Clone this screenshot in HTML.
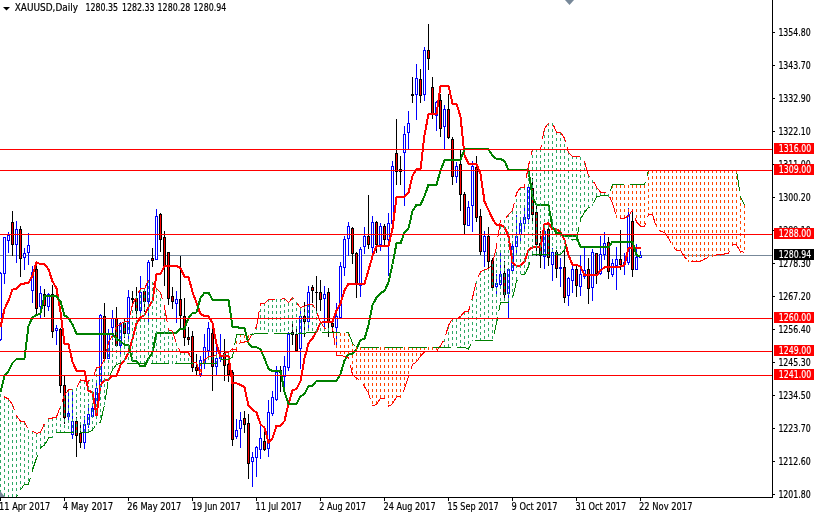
<!DOCTYPE html>
<html><head><meta charset="utf-8"><style>
html,body{margin:0;padding:0;background:#fff;overflow:hidden;}
svg{display:block;}
</style></head><body>
<svg width="814" height="514" viewBox="0 0 814 514" shape-rendering="crispEdges">
<rect width="814" height="514" fill="#fff"/>
<defs><clipPath id="cp"><rect x="0" y="0" width="772" height="497"/></clipPath></defs>
<g clip-path="url(#cp)">
<rect x="0" y="255" width="772" height="1" fill="#778899"/>
<rect x="0" y="272" width="1" height="69" fill="#0000ff"/>
<rect x="-1" y="273" width="3" height="67" fill="#0000ff"/>
<rect x="0" y="274" width="1" height="65" fill="#fff"/>
<rect x="4" y="237" width="1" height="47" fill="#0000ff"/>
<rect x="3" y="237" width="3" height="37" fill="#0000ff"/>
<rect x="4" y="238" width="1" height="35" fill="#fff"/>
<rect x="8" y="232" width="1" height="21" fill="#0000ff"/>
<rect x="7" y="235" width="3" height="6" fill="#0000ff"/>
<rect x="8" y="236" width="1" height="4" fill="#fff"/>
<rect x="12" y="211" width="1" height="45" fill="#000"/>
<rect x="11" y="222" width="3" height="23" fill="#000"/>
<rect x="12" y="223" width="1" height="21" fill="#ff0000"/>
<rect x="16" y="221" width="1" height="42" fill="#0000ff"/>
<rect x="15" y="229" width="3" height="16" fill="#0000ff"/>
<rect x="16" y="230" width="1" height="14" fill="#fff"/>
<rect x="20" y="226" width="1" height="51" fill="#000"/>
<rect x="19" y="229" width="3" height="30" fill="#000"/>
<rect x="20" y="230" width="1" height="28" fill="#ff0000"/>
<rect x="24" y="248" width="1" height="22" fill="#0000ff"/>
<rect x="23" y="253" width="3" height="5" fill="#0000ff"/>
<rect x="24" y="254" width="1" height="3" fill="#fff"/>
<rect x="28" y="233" width="1" height="32" fill="#0000ff"/>
<rect x="27" y="245" width="3" height="8" fill="#0000ff"/>
<rect x="28" y="246" width="1" height="6" fill="#fff"/>
<rect x="32" y="266" width="1" height="37" fill="#0000ff"/>
<rect x="31" y="272" width="3" height="19" fill="#0000ff"/>
<rect x="32" y="273" width="1" height="17" fill="#fff"/>
<rect x="36" y="266" width="1" height="49" fill="#000"/>
<rect x="35" y="269" width="3" height="40" fill="#000"/>
<rect x="36" y="270" width="1" height="38" fill="#ff0000"/>
<rect x="40" y="286" width="1" height="33" fill="#0000ff"/>
<rect x="39" y="293" width="3" height="14" fill="#0000ff"/>
<rect x="40" y="294" width="1" height="12" fill="#fff"/>
<rect x="44" y="289" width="1" height="28" fill="#000"/>
<rect x="43" y="294" width="3" height="12" fill="#000"/>
<rect x="44" y="295" width="1" height="10" fill="#ff0000"/>
<rect x="48" y="293" width="1" height="18" fill="#0000ff"/>
<rect x="47" y="294" width="3" height="13" fill="#0000ff"/>
<rect x="48" y="295" width="1" height="11" fill="#fff"/>
<rect x="52" y="285" width="1" height="53" fill="#000"/>
<rect x="51" y="294" width="3" height="38" fill="#000"/>
<rect x="52" y="295" width="1" height="36" fill="#ff0000"/>
<rect x="56" y="325" width="1" height="20" fill="#0000ff"/>
<rect x="55" y="328" width="3" height="3" fill="#0000ff"/>
<rect x="56" y="329" width="1" height="1" fill="#fff"/>
<rect x="60" y="328" width="1" height="65" fill="#000"/>
<rect x="59" y="329" width="3" height="57" fill="#000"/>
<rect x="60" y="330" width="1" height="55" fill="#ff0000"/>
<rect x="64" y="376" width="1" height="48" fill="#000"/>
<rect x="63" y="385" width="3" height="33" fill="#000"/>
<rect x="64" y="386" width="1" height="31" fill="#ff0000"/>
<rect x="68" y="390" width="1" height="31" fill="#0000ff"/>
<rect x="67" y="413" width="3" height="4" fill="#0000ff"/>
<rect x="68" y="414" width="1" height="2" fill="#fff"/>
<rect x="72" y="390" width="1" height="49" fill="#0000ff"/>
<rect x="71" y="421" width="3" height="14" fill="#0000ff"/>
<rect x="72" y="422" width="1" height="12" fill="#fff"/>
<rect x="76" y="417" width="1" height="40" fill="#000"/>
<rect x="75" y="421" width="3" height="15" fill="#000"/>
<rect x="76" y="422" width="1" height="13" fill="#ff0000"/>
<rect x="80" y="424" width="1" height="24" fill="#000"/>
<rect x="79" y="433" width="3" height="10" fill="#000"/>
<rect x="80" y="434" width="1" height="8" fill="#ff0000"/>
<rect x="84" y="416" width="1" height="33" fill="#0000ff"/>
<rect x="83" y="424" width="3" height="19" fill="#0000ff"/>
<rect x="84" y="425" width="1" height="17" fill="#fff"/>
<rect x="88" y="404" width="1" height="24" fill="#0000ff"/>
<rect x="87" y="414" width="3" height="11" fill="#0000ff"/>
<rect x="88" y="415" width="1" height="9" fill="#fff"/>
<rect x="92" y="406" width="1" height="12" fill="#0000ff"/>
<rect x="91" y="408" width="3" height="9" fill="#0000ff"/>
<rect x="92" y="409" width="1" height="7" fill="#fff"/>
<rect x="96" y="382" width="1" height="35" fill="#0000ff"/>
<rect x="95" y="388" width="3" height="22" fill="#0000ff"/>
<rect x="96" y="389" width="1" height="20" fill="#fff"/>
<rect x="100" y="314" width="1" height="74" fill="#0000ff"/>
<rect x="99" y="315" width="3" height="72" fill="#0000ff"/>
<rect x="100" y="316" width="1" height="70" fill="#fff"/>
<rect x="104" y="303" width="1" height="58" fill="#000"/>
<rect x="103" y="316" width="3" height="43" fill="#000"/>
<rect x="104" y="317" width="1" height="41" fill="#ff0000"/>
<rect x="108" y="329" width="1" height="30" fill="#0000ff"/>
<rect x="107" y="333" width="3" height="26" fill="#0000ff"/>
<rect x="108" y="334" width="1" height="24" fill="#fff"/>
<rect x="112" y="310" width="1" height="30" fill="#0000ff"/>
<rect x="111" y="318" width="3" height="10" fill="#0000ff"/>
<rect x="112" y="319" width="1" height="8" fill="#fff"/>
<rect x="116" y="307" width="1" height="40" fill="#000"/>
<rect x="115" y="318" width="3" height="28" fill="#000"/>
<rect x="116" y="319" width="1" height="26" fill="#ff0000"/>
<rect x="120" y="322" width="1" height="33" fill="#0000ff"/>
<rect x="119" y="323" width="3" height="23" fill="#0000ff"/>
<rect x="120" y="324" width="1" height="21" fill="#fff"/>
<rect x="124" y="319" width="1" height="19" fill="#000"/>
<rect x="123" y="323" width="3" height="11" fill="#000"/>
<rect x="124" y="324" width="1" height="9" fill="#ff0000"/>
<rect x="128" y="290" width="1" height="51" fill="#0000ff"/>
<rect x="127" y="297" width="3" height="37" fill="#0000ff"/>
<rect x="128" y="298" width="1" height="35" fill="#fff"/>
<rect x="132" y="291" width="1" height="13" fill="#000"/>
<rect x="131" y="298" width="3" height="2" fill="#000"/>
<rect x="136" y="287" width="1" height="32" fill="#000"/>
<rect x="135" y="298" width="3" height="13" fill="#000"/>
<rect x="136" y="299" width="1" height="11" fill="#ff0000"/>
<rect x="140" y="276" width="1" height="42" fill="#0000ff"/>
<rect x="139" y="292" width="3" height="19" fill="#0000ff"/>
<rect x="140" y="293" width="1" height="17" fill="#fff"/>
<rect x="144" y="288" width="1" height="24" fill="#000"/>
<rect x="143" y="291" width="3" height="11" fill="#000"/>
<rect x="144" y="292" width="1" height="9" fill="#ff0000"/>
<rect x="148" y="260" width="1" height="64" fill="#0000ff"/>
<rect x="147" y="262" width="3" height="40" fill="#0000ff"/>
<rect x="148" y="263" width="1" height="38" fill="#fff"/>
<rect x="152" y="248" width="1" height="19" fill="#000"/>
<rect x="151" y="258" width="3" height="3" fill="#000"/>
<rect x="152" y="259" width="1" height="1" fill="#ff0000"/>
<rect x="156" y="209" width="1" height="51" fill="#0000ff"/>
<rect x="155" y="216" width="3" height="44" fill="#0000ff"/>
<rect x="156" y="217" width="1" height="42" fill="#fff"/>
<rect x="160" y="213" width="1" height="39" fill="#000"/>
<rect x="159" y="214" width="3" height="26" fill="#000"/>
<rect x="160" y="215" width="1" height="24" fill="#ff0000"/>
<rect x="164" y="231" width="1" height="55" fill="#000"/>
<rect x="163" y="237" width="3" height="29" fill="#000"/>
<rect x="164" y="238" width="1" height="27" fill="#ff0000"/>
<rect x="168" y="252" width="1" height="53" fill="#000"/>
<rect x="167" y="252" width="3" height="47" fill="#000"/>
<rect x="168" y="253" width="1" height="45" fill="#ff0000"/>
<rect x="172" y="287" width="1" height="22" fill="#000"/>
<rect x="171" y="296" width="3" height="6" fill="#000"/>
<rect x="172" y="297" width="1" height="4" fill="#ff0000"/>
<rect x="176" y="291" width="1" height="32" fill="#0000ff"/>
<rect x="175" y="299" width="3" height="5" fill="#0000ff"/>
<rect x="176" y="300" width="1" height="3" fill="#fff"/>
<rect x="180" y="256" width="1" height="72" fill="#000"/>
<rect x="179" y="299" width="3" height="17" fill="#000"/>
<rect x="180" y="300" width="1" height="15" fill="#ff0000"/>
<rect x="184" y="298" width="1" height="48" fill="#000"/>
<rect x="183" y="316" width="3" height="22" fill="#000"/>
<rect x="184" y="317" width="1" height="20" fill="#ff0000"/>
<rect x="188" y="327" width="1" height="18" fill="#000"/>
<rect x="187" y="337" width="3" height="3" fill="#000"/>
<rect x="188" y="338" width="1" height="1" fill="#ff0000"/>
<rect x="192" y="331" width="1" height="41" fill="#000"/>
<rect x="191" y="336" width="3" height="32" fill="#000"/>
<rect x="192" y="337" width="1" height="30" fill="#ff0000"/>
<rect x="196" y="354" width="1" height="22" fill="#000"/>
<rect x="195" y="367" width="3" height="4" fill="#000"/>
<rect x="196" y="368" width="1" height="2" fill="#ff0000"/>
<rect x="200" y="356" width="1" height="21" fill="#0000ff"/>
<rect x="199" y="360" width="3" height="15" fill="#0000ff"/>
<rect x="200" y="361" width="1" height="13" fill="#fff"/>
<rect x="204" y="334" width="1" height="35" fill="#0000ff"/>
<rect x="203" y="347" width="3" height="16" fill="#0000ff"/>
<rect x="204" y="348" width="1" height="14" fill="#fff"/>
<rect x="208" y="322" width="1" height="38" fill="#0000ff"/>
<rect x="207" y="328" width="3" height="23" fill="#0000ff"/>
<rect x="208" y="329" width="1" height="21" fill="#fff"/>
<rect x="212" y="327" width="1" height="64" fill="#000"/>
<rect x="211" y="333" width="3" height="34" fill="#000"/>
<rect x="212" y="334" width="1" height="32" fill="#ff0000"/>
<rect x="216" y="347" width="1" height="29" fill="#0000ff"/>
<rect x="215" y="358" width="3" height="9" fill="#0000ff"/>
<rect x="216" y="359" width="1" height="7" fill="#fff"/>
<rect x="220" y="334" width="1" height="28" fill="#0000ff"/>
<rect x="219" y="355" width="3" height="4" fill="#0000ff"/>
<rect x="220" y="356" width="1" height="2" fill="#fff"/>
<rect x="224" y="339" width="1" height="42" fill="#000"/>
<rect x="223" y="353" width="3" height="13" fill="#000"/>
<rect x="224" y="354" width="1" height="11" fill="#ff0000"/>
<rect x="228" y="363" width="1" height="19" fill="#000"/>
<rect x="227" y="364" width="3" height="11" fill="#000"/>
<rect x="228" y="365" width="1" height="9" fill="#ff0000"/>
<rect x="232" y="370" width="1" height="76" fill="#000"/>
<rect x="231" y="372" width="3" height="68" fill="#000"/>
<rect x="232" y="373" width="1" height="66" fill="#ff0000"/>
<rect x="236" y="419" width="1" height="20" fill="#0000ff"/>
<rect x="235" y="430" width="3" height="7" fill="#0000ff"/>
<rect x="236" y="431" width="1" height="5" fill="#fff"/>
<rect x="240" y="412" width="1" height="36" fill="#0000ff"/>
<rect x="239" y="420" width="3" height="9" fill="#0000ff"/>
<rect x="240" y="421" width="1" height="7" fill="#fff"/>
<rect x="244" y="411" width="1" height="22" fill="#000"/>
<rect x="243" y="418" width="3" height="7" fill="#000"/>
<rect x="244" y="419" width="1" height="5" fill="#ff0000"/>
<rect x="248" y="414" width="1" height="65" fill="#000"/>
<rect x="247" y="423" width="3" height="41" fill="#000"/>
<rect x="248" y="424" width="1" height="39" fill="#ff0000"/>
<rect x="252" y="452" width="1" height="35" fill="#0000ff"/>
<rect x="251" y="457" width="3" height="5" fill="#0000ff"/>
<rect x="252" y="458" width="1" height="3" fill="#fff"/>
<rect x="256" y="446" width="1" height="31" fill="#0000ff"/>
<rect x="255" y="447" width="3" height="11" fill="#0000ff"/>
<rect x="256" y="448" width="1" height="9" fill="#fff"/>
<rect x="260" y="422" width="1" height="37" fill="#0000ff"/>
<rect x="259" y="438" width="3" height="12" fill="#0000ff"/>
<rect x="260" y="439" width="1" height="10" fill="#fff"/>
<rect x="264" y="432" width="1" height="19" fill="#000"/>
<rect x="263" y="441" width="3" height="9" fill="#000"/>
<rect x="264" y="442" width="1" height="7" fill="#ff0000"/>
<rect x="268" y="400" width="1" height="57" fill="#0000ff"/>
<rect x="267" y="412" width="3" height="37" fill="#0000ff"/>
<rect x="268" y="413" width="1" height="35" fill="#fff"/>
<rect x="272" y="391" width="1" height="25" fill="#0000ff"/>
<rect x="271" y="397" width="3" height="17" fill="#0000ff"/>
<rect x="272" y="398" width="1" height="15" fill="#fff"/>
<rect x="276" y="366" width="1" height="35" fill="#0000ff"/>
<rect x="275" y="372" width="3" height="28" fill="#0000ff"/>
<rect x="276" y="373" width="1" height="26" fill="#fff"/>
<rect x="280" y="366" width="1" height="26" fill="#000"/>
<rect x="279" y="370" width="3" height="3" fill="#000"/>
<rect x="280" y="371" width="1" height="1" fill="#ff0000"/>
<rect x="284" y="356" width="1" height="32" fill="#0000ff"/>
<rect x="283" y="366" width="3" height="11" fill="#0000ff"/>
<rect x="284" y="367" width="1" height="9" fill="#fff"/>
<rect x="288" y="332" width="1" height="39" fill="#0000ff"/>
<rect x="287" y="334" width="3" height="34" fill="#0000ff"/>
<rect x="288" y="335" width="1" height="32" fill="#fff"/>
<rect x="292" y="323" width="1" height="22" fill="#000"/>
<rect x="291" y="332" width="3" height="3" fill="#000"/>
<rect x="292" y="333" width="1" height="1" fill="#ff0000"/>
<rect x="296" y="326" width="1" height="26" fill="#000"/>
<rect x="295" y="334" width="3" height="17" fill="#000"/>
<rect x="296" y="335" width="1" height="15" fill="#ff0000"/>
<rect x="300" y="307" width="1" height="62" fill="#0000ff"/>
<rect x="299" y="316" width="3" height="33" fill="#0000ff"/>
<rect x="300" y="317" width="1" height="31" fill="#fff"/>
<rect x="304" y="302" width="1" height="35" fill="#000"/>
<rect x="303" y="316" width="3" height="6" fill="#000"/>
<rect x="304" y="317" width="1" height="4" fill="#ff0000"/>
<rect x="308" y="286" width="1" height="42" fill="#0000ff"/>
<rect x="307" y="292" width="3" height="30" fill="#0000ff"/>
<rect x="308" y="293" width="1" height="28" fill="#fff"/>
<rect x="312" y="285" width="1" height="18" fill="#000"/>
<rect x="311" y="287" width="3" height="4" fill="#000"/>
<rect x="312" y="288" width="1" height="2" fill="#ff0000"/>
<rect x="316" y="276" width="1" height="36" fill="#000"/>
<rect x="315" y="292" width="3" height="1" fill="#000"/>
<rect x="320" y="280" width="1" height="31" fill="#000"/>
<rect x="319" y="292" width="3" height="8" fill="#000"/>
<rect x="320" y="293" width="1" height="6" fill="#ff0000"/>
<rect x="324" y="286" width="1" height="43" fill="#0000ff"/>
<rect x="323" y="294" width="3" height="5" fill="#0000ff"/>
<rect x="324" y="295" width="1" height="3" fill="#fff"/>
<rect x="328" y="288" width="1" height="49" fill="#000"/>
<rect x="327" y="292" width="3" height="30" fill="#000"/>
<rect x="328" y="293" width="1" height="28" fill="#ff0000"/>
<rect x="332" y="321" width="1" height="11" fill="#000"/>
<rect x="331" y="323" width="3" height="4" fill="#000"/>
<rect x="332" y="324" width="1" height="2" fill="#ff0000"/>
<rect x="336" y="303" width="1" height="43" fill="#0000ff"/>
<rect x="335" y="316" width="3" height="12" fill="#0000ff"/>
<rect x="336" y="317" width="1" height="10" fill="#fff"/>
<rect x="340" y="262" width="1" height="56" fill="#0000ff"/>
<rect x="339" y="266" width="3" height="52" fill="#0000ff"/>
<rect x="340" y="267" width="1" height="50" fill="#fff"/>
<rect x="344" y="236" width="1" height="40" fill="#0000ff"/>
<rect x="343" y="239" width="3" height="29" fill="#0000ff"/>
<rect x="344" y="240" width="1" height="27" fill="#fff"/>
<rect x="348" y="222" width="1" height="34" fill="#0000ff"/>
<rect x="347" y="226" width="3" height="13" fill="#0000ff"/>
<rect x="348" y="227" width="1" height="11" fill="#fff"/>
<rect x="352" y="227" width="1" height="37" fill="#000"/>
<rect x="351" y="228" width="3" height="26" fill="#000"/>
<rect x="352" y="229" width="1" height="24" fill="#ff0000"/>
<rect x="356" y="252" width="1" height="46" fill="#000"/>
<rect x="355" y="253" width="3" height="32" fill="#000"/>
<rect x="356" y="254" width="1" height="30" fill="#ff0000"/>
<rect x="360" y="247" width="1" height="50" fill="#0000ff"/>
<rect x="359" y="249" width="3" height="37" fill="#0000ff"/>
<rect x="360" y="250" width="1" height="35" fill="#fff"/>
<rect x="364" y="227" width="1" height="27" fill="#0000ff"/>
<rect x="363" y="236" width="3" height="11" fill="#0000ff"/>
<rect x="364" y="237" width="1" height="9" fill="#fff"/>
<rect x="368" y="195" width="1" height="54" fill="#000"/>
<rect x="367" y="236" width="3" height="9" fill="#000"/>
<rect x="368" y="237" width="1" height="7" fill="#ff0000"/>
<rect x="372" y="216" width="1" height="39" fill="#0000ff"/>
<rect x="371" y="222" width="3" height="26" fill="#0000ff"/>
<rect x="372" y="223" width="1" height="24" fill="#fff"/>
<rect x="376" y="221" width="1" height="32" fill="#000"/>
<rect x="375" y="222" width="3" height="23" fill="#000"/>
<rect x="376" y="223" width="1" height="21" fill="#ff0000"/>
<rect x="380" y="223" width="1" height="28" fill="#0000ff"/>
<rect x="379" y="226" width="3" height="19" fill="#0000ff"/>
<rect x="380" y="227" width="1" height="17" fill="#fff"/>
<rect x="384" y="224" width="1" height="22" fill="#000"/>
<rect x="383" y="226" width="3" height="14" fill="#000"/>
<rect x="384" y="227" width="1" height="12" fill="#ff0000"/>
<rect x="388" y="213" width="1" height="63" fill="#0000ff"/>
<rect x="387" y="223" width="3" height="17" fill="#0000ff"/>
<rect x="388" y="224" width="1" height="15" fill="#fff"/>
<rect x="392" y="161" width="1" height="63" fill="#0000ff"/>
<rect x="391" y="166" width="3" height="58" fill="#0000ff"/>
<rect x="392" y="167" width="1" height="56" fill="#fff"/>
<rect x="396" y="119" width="1" height="66" fill="#000"/>
<rect x="395" y="153" width="3" height="19" fill="#000"/>
<rect x="396" y="154" width="1" height="17" fill="#ff0000"/>
<rect x="400" y="156" width="1" height="29" fill="#000"/>
<rect x="399" y="169" width="3" height="3" fill="#000"/>
<rect x="400" y="170" width="1" height="1" fill="#ff0000"/>
<rect x="404" y="126" width="1" height="80" fill="#0000ff"/>
<rect x="403" y="134" width="3" height="19" fill="#0000ff"/>
<rect x="404" y="135" width="1" height="17" fill="#fff"/>
<rect x="408" y="111" width="1" height="39" fill="#0000ff"/>
<rect x="407" y="123" width="3" height="10" fill="#0000ff"/>
<rect x="408" y="124" width="1" height="8" fill="#fff"/>
<rect x="412" y="77" width="1" height="26" fill="#000"/>
<rect x="411" y="94" width="3" height="2" fill="#000"/>
<rect x="416" y="64" width="1" height="56" fill="#0000ff"/>
<rect x="415" y="78" width="3" height="17" fill="#0000ff"/>
<rect x="416" y="79" width="1" height="15" fill="#fff"/>
<rect x="420" y="69" width="1" height="34" fill="#000"/>
<rect x="419" y="79" width="3" height="17" fill="#000"/>
<rect x="420" y="80" width="1" height="15" fill="#ff0000"/>
<rect x="424" y="47" width="1" height="54" fill="#0000ff"/>
<rect x="423" y="50" width="3" height="45" fill="#0000ff"/>
<rect x="424" y="51" width="1" height="43" fill="#fff"/>
<rect x="428" y="24" width="1" height="46" fill="#000"/>
<rect x="427" y="50" width="3" height="9" fill="#000"/>
<rect x="428" y="51" width="1" height="7" fill="#ff0000"/>
<rect x="432" y="77" width="1" height="42" fill="#000"/>
<rect x="431" y="87" width="3" height="27" fill="#000"/>
<rect x="432" y="88" width="1" height="25" fill="#ff0000"/>
<rect x="436" y="101" width="1" height="30" fill="#0000ff"/>
<rect x="435" y="102" width="3" height="14" fill="#0000ff"/>
<rect x="436" y="103" width="1" height="12" fill="#fff"/>
<rect x="440" y="94" width="1" height="43" fill="#000"/>
<rect x="439" y="100" width="3" height="29" fill="#000"/>
<rect x="440" y="101" width="1" height="27" fill="#ff0000"/>
<rect x="444" y="105" width="1" height="44" fill="#0000ff"/>
<rect x="443" y="109" width="3" height="18" fill="#0000ff"/>
<rect x="444" y="110" width="1" height="16" fill="#fff"/>
<rect x="448" y="94" width="1" height="45" fill="#000"/>
<rect x="447" y="109" width="3" height="29" fill="#000"/>
<rect x="448" y="110" width="1" height="27" fill="#ff0000"/>
<rect x="452" y="137" width="1" height="48" fill="#000"/>
<rect x="451" y="139" width="3" height="38" fill="#000"/>
<rect x="452" y="140" width="1" height="36" fill="#ff0000"/>
<rect x="456" y="162" width="1" height="21" fill="#0000ff"/>
<rect x="455" y="166" width="3" height="11" fill="#0000ff"/>
<rect x="456" y="167" width="1" height="9" fill="#fff"/>
<rect x="460" y="150" width="1" height="61" fill="#000"/>
<rect x="459" y="164" width="3" height="31" fill="#000"/>
<rect x="460" y="165" width="1" height="29" fill="#ff0000"/>
<rect x="464" y="192" width="1" height="43" fill="#000"/>
<rect x="463" y="194" width="3" height="31" fill="#000"/>
<rect x="464" y="195" width="1" height="29" fill="#ff0000"/>
<rect x="468" y="201" width="1" height="25" fill="#0000ff"/>
<rect x="467" y="207" width="3" height="19" fill="#0000ff"/>
<rect x="468" y="208" width="1" height="17" fill="#fff"/>
<rect x="472" y="161" width="1" height="71" fill="#0000ff"/>
<rect x="471" y="166" width="3" height="40" fill="#0000ff"/>
<rect x="472" y="167" width="1" height="38" fill="#fff"/>
<rect x="476" y="156" width="1" height="66" fill="#000"/>
<rect x="475" y="167" width="3" height="51" fill="#000"/>
<rect x="476" y="168" width="1" height="49" fill="#ff0000"/>
<rect x="480" y="209" width="1" height="46" fill="#000"/>
<rect x="479" y="216" width="3" height="36" fill="#000"/>
<rect x="480" y="217" width="1" height="34" fill="#ff0000"/>
<rect x="484" y="231" width="1" height="36" fill="#0000ff"/>
<rect x="483" y="236" width="3" height="16" fill="#0000ff"/>
<rect x="484" y="237" width="1" height="14" fill="#fff"/>
<rect x="488" y="227" width="1" height="44" fill="#000"/>
<rect x="487" y="236" width="3" height="26" fill="#000"/>
<rect x="488" y="237" width="1" height="24" fill="#ff0000"/>
<rect x="492" y="258" width="1" height="30" fill="#000"/>
<rect x="491" y="260" width="3" height="28" fill="#000"/>
<rect x="492" y="261" width="1" height="26" fill="#ff0000"/>
<rect x="496" y="274" width="1" height="21" fill="#0000ff"/>
<rect x="495" y="283" width="3" height="4" fill="#0000ff"/>
<rect x="496" y="284" width="1" height="2" fill="#fff"/>
<rect x="500" y="253" width="1" height="34" fill="#0000ff"/>
<rect x="499" y="274" width="3" height="11" fill="#0000ff"/>
<rect x="500" y="275" width="1" height="9" fill="#fff"/>
<rect x="504" y="261" width="1" height="38" fill="#000"/>
<rect x="503" y="273" width="3" height="22" fill="#000"/>
<rect x="504" y="274" width="1" height="20" fill="#ff0000"/>
<rect x="508" y="268" width="1" height="50" fill="#0000ff"/>
<rect x="507" y="269" width="3" height="25" fill="#0000ff"/>
<rect x="508" y="270" width="1" height="23" fill="#fff"/>
<rect x="512" y="243" width="1" height="29" fill="#0000ff"/>
<rect x="511" y="246" width="3" height="25" fill="#0000ff"/>
<rect x="512" y="247" width="1" height="23" fill="#fff"/>
<rect x="516" y="215" width="1" height="39" fill="#0000ff"/>
<rect x="515" y="236" width="3" height="11" fill="#0000ff"/>
<rect x="516" y="237" width="1" height="9" fill="#fff"/>
<rect x="520" y="219" width="1" height="23" fill="#0000ff"/>
<rect x="519" y="223" width="3" height="12" fill="#0000ff"/>
<rect x="520" y="224" width="1" height="10" fill="#fff"/>
<rect x="524" y="206" width="1" height="25" fill="#0000ff"/>
<rect x="523" y="217" width="3" height="7" fill="#0000ff"/>
<rect x="524" y="218" width="1" height="5" fill="#fff"/>
<rect x="528" y="184" width="1" height="40" fill="#0000ff"/>
<rect x="527" y="187" width="3" height="32" fill="#0000ff"/>
<rect x="528" y="188" width="1" height="30" fill="#fff"/>
<rect x="532" y="178" width="1" height="46" fill="#000"/>
<rect x="531" y="188" width="3" height="27" fill="#000"/>
<rect x="532" y="189" width="1" height="25" fill="#ff0000"/>
<rect x="536" y="205" width="1" height="51" fill="#000"/>
<rect x="535" y="212" width="3" height="33" fill="#000"/>
<rect x="536" y="213" width="1" height="31" fill="#ff0000"/>
<rect x="540" y="231" width="1" height="37" fill="#000"/>
<rect x="539" y="243" width="3" height="13" fill="#000"/>
<rect x="540" y="244" width="1" height="11" fill="#ff0000"/>
<rect x="544" y="224" width="1" height="45" fill="#0000ff"/>
<rect x="543" y="231" width="3" height="26" fill="#0000ff"/>
<rect x="544" y="232" width="1" height="24" fill="#fff"/>
<rect x="548" y="228" width="1" height="38" fill="#000"/>
<rect x="547" y="229" width="3" height="29" fill="#000"/>
<rect x="548" y="230" width="1" height="27" fill="#ff0000"/>
<rect x="552" y="248" width="1" height="33" fill="#0000ff"/>
<rect x="551" y="252" width="3" height="13" fill="#0000ff"/>
<rect x="552" y="253" width="1" height="11" fill="#fff"/>
<rect x="556" y="250" width="1" height="28" fill="#000"/>
<rect x="555" y="252" width="3" height="17" fill="#000"/>
<rect x="556" y="253" width="1" height="15" fill="#ff0000"/>
<rect x="560" y="258" width="1" height="29" fill="#0000ff"/>
<rect x="559" y="267" width="3" height="2" fill="#0000ff"/>
<rect x="564" y="246" width="1" height="57" fill="#000"/>
<rect x="563" y="267" width="3" height="31" fill="#000"/>
<rect x="564" y="268" width="1" height="29" fill="#ff0000"/>
<rect x="568" y="277" width="1" height="29" fill="#0000ff"/>
<rect x="567" y="278" width="3" height="18" fill="#0000ff"/>
<rect x="568" y="279" width="1" height="16" fill="#fff"/>
<rect x="572" y="262" width="1" height="31" fill="#0000ff"/>
<rect x="571" y="269" width="3" height="12" fill="#0000ff"/>
<rect x="572" y="270" width="1" height="10" fill="#fff"/>
<rect x="576" y="266" width="1" height="31" fill="#000"/>
<rect x="575" y="269" width="3" height="17" fill="#000"/>
<rect x="576" y="270" width="1" height="15" fill="#ff0000"/>
<rect x="580" y="255" width="1" height="41" fill="#0000ff"/>
<rect x="579" y="274" width="3" height="13" fill="#0000ff"/>
<rect x="580" y="275" width="1" height="11" fill="#fff"/>
<rect x="584" y="246" width="1" height="33" fill="#0000ff"/>
<rect x="583" y="270" width="3" height="7" fill="#0000ff"/>
<rect x="584" y="271" width="1" height="5" fill="#fff"/>
<rect x="588" y="258" width="1" height="46" fill="#000"/>
<rect x="587" y="269" width="3" height="20" fill="#000"/>
<rect x="588" y="270" width="1" height="18" fill="#ff0000"/>
<rect x="592" y="249" width="1" height="52" fill="#0000ff"/>
<rect x="591" y="252" width="3" height="36" fill="#0000ff"/>
<rect x="592" y="253" width="1" height="34" fill="#fff"/>
<rect x="596" y="253" width="1" height="31" fill="#000"/>
<rect x="595" y="253" width="3" height="21" fill="#000"/>
<rect x="596" y="254" width="1" height="19" fill="#ff0000"/>
<rect x="600" y="236" width="1" height="39" fill="#0000ff"/>
<rect x="599" y="254" width="3" height="20" fill="#0000ff"/>
<rect x="600" y="255" width="1" height="18" fill="#fff"/>
<rect x="604" y="232" width="1" height="28" fill="#0000ff"/>
<rect x="603" y="243" width="3" height="12" fill="#0000ff"/>
<rect x="604" y="244" width="1" height="10" fill="#fff"/>
<rect x="608" y="237" width="1" height="42" fill="#000"/>
<rect x="607" y="242" width="3" height="30" fill="#000"/>
<rect x="608" y="243" width="1" height="28" fill="#ff0000"/>
<rect x="612" y="259" width="1" height="18" fill="#0000ff"/>
<rect x="611" y="263" width="3" height="12" fill="#0000ff"/>
<rect x="612" y="264" width="1" height="10" fill="#fff"/>
<rect x="616" y="247" width="1" height="43" fill="#0000ff"/>
<rect x="615" y="259" width="3" height="7" fill="#0000ff"/>
<rect x="616" y="260" width="1" height="5" fill="#fff"/>
<rect x="620" y="230" width="1" height="40" fill="#000"/>
<rect x="619" y="259" width="3" height="6" fill="#000"/>
<rect x="620" y="260" width="1" height="4" fill="#ff0000"/>
<rect x="624" y="253" width="1" height="22" fill="#0000ff"/>
<rect x="623" y="262" width="3" height="3" fill="#0000ff"/>
<rect x="624" y="263" width="1" height="1" fill="#fff"/>
<rect x="628" y="208" width="1" height="57" fill="#0000ff"/>
<rect x="627" y="215" width="3" height="48" fill="#0000ff"/>
<rect x="628" y="216" width="1" height="46" fill="#fff"/>
<rect x="632" y="212" width="1" height="65" fill="#000"/>
<rect x="631" y="221" width="3" height="49" fill="#000"/>
<rect x="632" y="222" width="1" height="47" fill="#ff0000"/>
<rect x="636" y="244" width="1" height="26" fill="#0000ff"/>
<rect x="635" y="257" width="3" height="13" fill="#0000ff"/>
<rect x="636" y="258" width="1" height="11" fill="#fff"/>
<rect x="640" y="251" width="1" height="7" fill="#0000ff"/>
<rect x="639" y="255" width="3" height="3" fill="#0000ff"/>
<rect x="640" y="256" width="1" height="1" fill="#fff"/>
<polyline points="0.5,327.0 4.5,309.0 8.5,300.5 12.5,289.6 16.5,289.0 20.5,284.5 24.5,283.5 28.5,283.0 32.5,275.5 36.5,262.4 40.5,264.2 44.5,264.2 48.5,269.2 52.5,281.4 56.5,288.4 60.5,312.2 64.5,344.3 68.5,344.3 72.5,361.7 76.5,370.9 80.5,370.9 84.5,370.9 88.5,390.8 92.5,392.2 96.5,416.2 100.5,385.2 104.5,379.9 108.5,379.9 112.5,375.9 116.5,375.9 120.5,365.1 124.5,360.1 128.5,353.0 132.5,338.7 136.5,323.5 140.5,317.4 144.5,315.1 148.5,307.1 152.5,301.0 156.5,274.2 160.5,274.2 164.5,266.1 168.5,266.1 172.5,266.1 176.5,266.1 180.5,267.9 184.5,276.8 188.5,276.8 192.5,292.0 196.5,303.0 200.5,314.1 204.5,316.1 208.5,316.1 212.5,323.2 216.5,344.2 220.5,356.4 224.5,356.4 228.5,356.4 232.5,383.4 236.5,383.4 240.5,384.8 244.5,387.2 248.5,405.8 252.5,409.9 256.5,412.4 260.5,424.2 264.5,427.7 268.5,442.9 272.5,438.4 276.5,425.6 280.5,425.6 284.5,420.9 288.5,403.9 292.5,390.3 296.5,389.2 300.5,381.2 304.5,358.4 308.5,343.2 312.5,338.4 316.5,331.5 320.5,322.8 324.5,321.9 328.5,321.9 332.5,321.9 336.5,310.7 340.5,303.7 344.5,290.4 348.5,283.8 352.5,283.8 356.5,283.8 360.5,283.8 364.5,283.8 368.5,270.2 372.5,256.2 376.5,246.0 380.5,246.0 384.5,246.0 388.5,246.0 392.5,228.5 396.5,196.8 400.5,196.8 404.5,196.8 408.5,192.9 412.5,175.7 416.5,169.3 420.5,169.3 424.5,134.9 428.5,114.2 432.5,114.2 436.5,114.2 440.5,86.5 444.5,85.8 448.5,85.8 452.5,103.7 456.5,103.7 460.5,116.8 464.5,155.3 468.5,163.7 472.5,163.7 476.5,163.9 480.5,173.9 484.5,201.4 488.5,210.0 492.5,218.7 496.5,225.0 500.5,225.0 504.5,227.0 508.5,236.3 512.5,262.9 516.5,265.8 520.5,265.8 524.5,261.6 528.5,250.1 532.5,247.3 536.5,247.3 540.5,247.3 544.5,224.5 548.5,223.2 552.5,229.2 556.5,229.2 560.5,231.9 564.5,239.8 568.5,255.2 572.5,264.7 576.5,264.7 580.5,266.7 584.5,275.4 588.5,275.4 592.5,275.4 596.5,275.4 600.5,270.7 604.5,267.4 608.5,267.4 612.5,267.4 616.5,267.4 620.5,266.4 624.5,265.2 628.5,248.1 632.5,248.1 636.5,248.1 640.5,248.1" fill="none" stroke="#ff0000" stroke-width="2"/>
<polyline points="0.5,392.0 4.5,376.0 8.5,371.0 12.5,363.0 16.5,359.0 20.5,358.6 24.5,358.6 28.5,326.0 32.5,317.5 36.5,315.0 40.5,313.5 44.5,296.0 48.5,295.7 52.5,295.7 56.5,296.5 60.5,301.5 64.5,315.3 68.5,318.0 72.5,324.5 76.5,333.7 80.5,333.7 84.5,333.7 88.5,333.7 92.5,333.7 96.5,333.7 100.5,333.8 104.5,333.8 108.5,333.8 112.5,333.8 116.5,338.8 120.5,341.2 124.5,344.8 128.5,344.8 132.5,361.2 136.5,361.2 140.5,366.4 144.5,366.4 148.5,358.4 152.5,352.4 156.5,332.7 160.5,332.7 164.5,332.7 168.5,332.7 172.5,332.7 176.5,332.7 180.5,328.7 184.5,328.7 188.5,317.9 192.5,312.9 196.5,312.4 200.5,298.1 204.5,292.6 208.5,292.6 212.5,299.7 216.5,299.7 220.5,299.7 224.5,299.7 228.5,299.7 232.5,326.8 236.5,326.8 240.5,328.1 244.5,328.1 248.5,343.2 252.5,347.3 256.5,347.3 260.5,349.4 264.5,358.4 268.5,368.9 272.5,370.9 276.5,370.9 280.5,370.9 284.5,391.9 288.5,403.9 292.5,403.9 296.5,403.9 300.5,396.4 304.5,393.9 308.5,385.9 312.5,385.5 316.5,380.9 320.5,380.9 324.5,380.9 328.5,380.9 332.5,380.9 336.5,380.9 340.5,373.9 344.5,360.6 348.5,353.9 352.5,353.9 356.5,349.0 360.5,339.9 364.5,338.9 368.5,325.2 372.5,304.9 376.5,297.7 380.5,293.2 384.5,291.0 388.5,282.2 392.5,264.5 396.5,243.4 400.5,243.4 404.5,232.1 408.5,228.3 412.5,211.1 416.5,204.7 420.5,204.7 424.5,196.2 428.5,184.6 432.5,184.6 436.5,184.6 440.5,170.6 444.5,160.4 448.5,160.4 452.5,160.4 456.5,160.4 460.5,159.8 464.5,149.2 468.5,149.2 472.5,149.2 476.5,149.2 480.5,149.2 484.5,149.2 488.5,149.2 492.5,155.6 496.5,158.9 500.5,158.9 504.5,160.9 508.5,170.2 512.5,170.2 516.5,170.2 520.5,170.2 524.5,170.2 528.5,170.2 532.5,196.7 536.5,205.1 540.5,205.1 544.5,205.3 548.5,205.3 552.5,226.9 556.5,233.3 560.5,233.3 564.5,236.3 568.5,236.3 572.5,236.3 576.5,236.3 580.5,247.3 584.5,247.3 588.5,247.3 592.5,247.3 596.5,247.3 600.5,247.3 604.5,247.3 608.5,247.3 612.5,241.7 616.5,241.7 620.5,241.7 624.5,241.7 628.5,241.7 632.5,241.7 636.5,255.2 640.5,256.4" fill="none" stroke="#008000" stroke-width="2"/>
<path d="M0 394h1v3h-1zM0 400h1v3h-1zM0 406h1v3h-1zM0 412h1v3h-1zM0 418h1v3h-1zM0 424h1v3h-1zM0 430h1v3h-1zM0 436h1v3h-1zM0 442h1v3h-1zM0 448h1v3h-1zM0 454h1v3h-1zM0 460h1v3h-1zM0 466h1v3h-1zM0 472h1v3h-1zM0 478h1v3h-1zM0 484h1v3h-1zM0 490h1v3h-1zM0 496h1v3h-1zM0 502h1v3h-1zM4 397h1v3h-1zM4 403h1v3h-1zM4 409h1v3h-1zM4 415h1v3h-1zM4 421h1v3h-1zM4 427h1v3h-1zM4 433h1v3h-1zM4 439h1v3h-1zM4 445h1v3h-1zM4 451h1v3h-1zM4 457h1v3h-1zM4 463h1v3h-1zM4 469h1v3h-1zM4 475h1v3h-1zM4 481h1v3h-1zM4 487h1v3h-1zM4 493h1v3h-1zM4 499h1v3h-1zM4 505h1v1h-1zM8 399h1v3h-1zM8 405h1v3h-1zM8 411h1v3h-1zM8 417h1v3h-1zM8 423h1v3h-1zM8 429h1v3h-1zM8 435h1v3h-1zM8 441h1v3h-1zM8 447h1v3h-1zM8 453h1v3h-1zM8 459h1v3h-1zM8 465h1v3h-1zM8 471h1v3h-1zM8 477h1v3h-1zM8 483h1v3h-1zM8 489h1v3h-1zM8 495h1v3h-1zM8 501h1v3h-1zM12 404h1v3h-1zM12 410h1v3h-1zM12 416h1v3h-1zM12 422h1v3h-1zM12 428h1v3h-1zM12 434h1v3h-1zM12 440h1v3h-1zM12 446h1v3h-1zM12 452h1v3h-1zM12 458h1v3h-1zM12 464h1v3h-1zM12 470h1v3h-1zM12 476h1v3h-1zM12 482h1v3h-1zM12 488h1v3h-1zM12 494h1v3h-1zM12 500h1v3h-1zM16 416h1v3h-1zM16 422h1v3h-1zM16 428h1v3h-1zM16 434h1v3h-1zM16 440h1v3h-1zM16 446h1v3h-1zM16 452h1v3h-1zM16 458h1v3h-1zM16 464h1v3h-1zM16 470h1v3h-1zM16 476h1v3h-1zM16 482h1v3h-1zM16 488h1v3h-1zM16 494h1v3h-1zM20 421h1v3h-1zM20 427h1v3h-1zM20 433h1v3h-1zM20 439h1v3h-1zM20 445h1v3h-1zM20 451h1v3h-1zM20 457h1v3h-1zM20 463h1v3h-1zM20 469h1v3h-1zM20 475h1v3h-1zM20 481h1v3h-1zM20 487h1v3h-1zM24 422h1v3h-1zM24 428h1v3h-1zM24 434h1v3h-1zM24 440h1v3h-1zM24 446h1v3h-1zM24 452h1v3h-1zM24 458h1v3h-1zM24 464h1v3h-1zM24 470h1v3h-1zM24 476h1v3h-1zM24 482h1v3h-1zM28 430h1v3h-1zM28 436h1v3h-1zM28 442h1v3h-1zM28 448h1v3h-1zM28 454h1v3h-1zM28 460h1v3h-1zM28 466h1v3h-1zM28 472h1v3h-1zM28 478h1v3h-1zM28 484h1v1h-1zM32 431h1v3h-1zM32 437h1v3h-1zM32 443h1v3h-1zM32 449h1v3h-1zM32 455h1v3h-1zM32 461h1v3h-1zM32 467h1v3h-1zM36 434h1v3h-1zM36 440h1v3h-1zM36 446h1v3h-1zM36 452h1v3h-1zM36 458h1v1h-1zM40 432h1v3h-1zM40 438h1v3h-1zM40 444h1v3h-1zM44 424h1v3h-1zM44 430h1v3h-1zM44 436h1v3h-1zM44 442h1v3h-1zM48 419h1v3h-1zM48 425h1v3h-1zM48 431h1v3h-1zM48 437h1v2h-1zM52 418h1v3h-1zM52 424h1v3h-1zM52 430h1v3h-1zM52 436h1v2h-1zM56 417h1v3h-1zM56 423h1v3h-1zM56 429h1v3h-1zM60 406h1v3h-1zM60 412h1v3h-1zM60 418h1v3h-1zM60 424h1v3h-1zM60 430h1v3h-1zM64 395h1v3h-1zM64 401h1v3h-1zM64 407h1v3h-1zM64 413h1v3h-1zM64 419h1v3h-1zM64 425h1v3h-1zM64 431h1v2h-1zM68 390h1v3h-1zM68 396h1v3h-1zM68 402h1v3h-1zM68 408h1v3h-1zM68 414h1v3h-1zM68 420h1v3h-1zM68 426h1v3h-1zM68 432h1v1h-1zM72 389h1v3h-1zM72 395h1v3h-1zM72 401h1v3h-1zM72 407h1v3h-1zM72 413h1v3h-1zM72 419h1v3h-1zM72 425h1v3h-1zM72 431h1v2h-1zM76 388h1v3h-1zM76 394h1v3h-1zM76 400h1v3h-1zM76 406h1v3h-1zM76 412h1v3h-1zM76 418h1v3h-1zM76 424h1v3h-1zM76 430h1v3h-1zM80 380h1v3h-1zM80 386h1v3h-1zM80 392h1v3h-1zM80 398h1v3h-1zM80 404h1v3h-1zM80 410h1v3h-1zM80 416h1v3h-1zM80 422h1v3h-1zM80 428h1v3h-1zM84 381h1v3h-1zM84 387h1v3h-1zM84 393h1v3h-1zM84 399h1v3h-1zM84 405h1v3h-1zM84 411h1v3h-1zM84 417h1v3h-1zM84 423h1v3h-1zM84 429h1v3h-1zM88 381h1v3h-1zM88 387h1v3h-1zM88 393h1v3h-1zM88 399h1v3h-1zM88 405h1v3h-1zM88 411h1v3h-1zM88 417h1v3h-1zM88 423h1v3h-1zM88 429h1v3h-1zM92 379h1v3h-1zM92 385h1v3h-1zM92 391h1v3h-1zM92 397h1v3h-1zM92 403h1v3h-1zM92 409h1v3h-1zM92 415h1v3h-1zM92 421h1v3h-1zM92 427h1v3h-1zM96 368h1v3h-1zM96 374h1v3h-1zM96 380h1v3h-1zM96 386h1v3h-1zM96 392h1v3h-1zM96 398h1v3h-1zM96 404h1v3h-1zM96 410h1v3h-1zM96 416h1v3h-1zM96 422h1v3h-1zM100 367h1v3h-1zM100 373h1v3h-1zM100 379h1v3h-1zM100 385h1v3h-1zM100 391h1v3h-1zM100 397h1v3h-1zM100 403h1v3h-1zM100 409h1v3h-1zM100 415h1v3h-1zM100 421h1v2h-1zM104 360h1v3h-1zM104 366h1v3h-1zM104 372h1v3h-1zM104 378h1v3h-1zM104 384h1v3h-1zM104 390h1v3h-1zM104 396h1v3h-1zM104 402h1v3h-1zM108 342h1v3h-1zM108 348h1v3h-1zM108 354h1v3h-1zM108 360h1v3h-1zM108 366h1v3h-1zM108 372h1v3h-1zM108 378h1v2h-1zM112 336h1v3h-1zM112 342h1v3h-1zM112 348h1v3h-1zM112 354h1v3h-1zM112 360h1v3h-1zM112 366h1v3h-1zM116 326h1v3h-1zM116 332h1v3h-1zM116 338h1v3h-1zM116 344h1v3h-1zM116 350h1v3h-1zM116 356h1v3h-1zM116 362h1v3h-1zM120 324h1v3h-1zM120 330h1v3h-1zM120 336h1v3h-1zM120 342h1v3h-1zM120 348h1v3h-1zM120 354h1v3h-1zM120 360h1v3h-1zM124 322h1v3h-1zM124 328h1v3h-1zM124 334h1v3h-1zM124 340h1v3h-1zM124 346h1v3h-1zM124 352h1v3h-1zM124 358h1v3h-1zM128 321h1v3h-1zM128 327h1v3h-1zM128 333h1v3h-1zM128 339h1v3h-1zM128 345h1v3h-1zM128 351h1v3h-1zM128 357h1v3h-1zM128 363h1v1h-1zM132 304h1v3h-1zM132 310h1v3h-1zM132 316h1v3h-1zM132 322h1v3h-1zM132 328h1v3h-1zM132 334h1v3h-1zM132 340h1v3h-1zM132 346h1v3h-1zM132 352h1v3h-1zM132 358h1v3h-1zM136 296h1v3h-1zM136 302h1v3h-1zM136 308h1v3h-1zM136 314h1v3h-1zM136 320h1v3h-1zM136 326h1v3h-1zM136 332h1v3h-1zM136 338h1v3h-1zM136 344h1v3h-1zM136 350h1v3h-1zM136 356h1v3h-1zM136 362h1v2h-1zM140 289h1v3h-1zM140 295h1v3h-1zM140 301h1v3h-1zM140 307h1v3h-1zM140 313h1v3h-1zM140 319h1v3h-1zM140 325h1v3h-1zM140 331h1v3h-1zM140 337h1v3h-1zM140 343h1v3h-1zM140 349h1v3h-1zM140 355h1v3h-1zM140 361h1v3h-1zM144 289h1v3h-1zM144 295h1v3h-1zM144 301h1v3h-1zM144 307h1v3h-1zM144 313h1v3h-1zM144 319h1v3h-1zM144 325h1v3h-1zM144 331h1v3h-1zM144 337h1v3h-1zM144 343h1v3h-1zM144 349h1v3h-1zM144 355h1v3h-1zM144 361h1v3h-1zM148 280h1v3h-1zM148 286h1v3h-1zM148 292h1v3h-1zM148 298h1v3h-1zM148 304h1v3h-1zM148 310h1v3h-1zM148 316h1v3h-1zM148 322h1v3h-1zM148 328h1v3h-1zM148 334h1v3h-1zM148 340h1v3h-1zM148 346h1v3h-1zM148 352h1v3h-1zM148 358h1v3h-1zM152 282h1v3h-1zM152 288h1v3h-1zM152 294h1v3h-1zM152 300h1v3h-1zM152 306h1v3h-1zM152 312h1v3h-1zM152 318h1v3h-1zM152 324h1v3h-1zM152 330h1v3h-1zM152 336h1v3h-1zM152 342h1v3h-1zM152 348h1v3h-1zM152 354h1v3h-1zM152 360h1v3h-1zM156 289h1v3h-1zM156 295h1v3h-1zM156 301h1v3h-1zM156 307h1v3h-1zM156 313h1v3h-1zM156 319h1v3h-1zM156 325h1v3h-1zM156 331h1v3h-1zM156 337h1v3h-1zM156 343h1v3h-1zM156 349h1v3h-1zM156 355h1v3h-1zM156 361h1v3h-1zM160 292h1v3h-1zM160 298h1v3h-1zM160 304h1v3h-1zM160 310h1v3h-1zM160 316h1v3h-1zM160 322h1v3h-1zM160 328h1v3h-1zM160 334h1v3h-1zM160 340h1v3h-1zM160 346h1v3h-1zM160 352h1v3h-1zM160 358h1v3h-1zM164 307h1v3h-1zM164 313h1v3h-1zM164 319h1v3h-1zM164 325h1v3h-1zM164 331h1v3h-1zM164 337h1v3h-1zM164 343h1v3h-1zM164 349h1v3h-1zM164 355h1v3h-1zM164 361h1v3h-1zM168 330h1v3h-1zM168 336h1v3h-1zM168 342h1v3h-1zM168 348h1v3h-1zM168 354h1v3h-1zM168 360h1v3h-1zM172 331h1v3h-1zM172 337h1v3h-1zM172 343h1v3h-1zM172 349h1v3h-1zM172 355h1v3h-1zM172 361h1v3h-1zM176 343h1v3h-1zM176 349h1v3h-1zM176 355h1v3h-1zM176 361h1v3h-1zM180 352h1v3h-1zM180 358h1v3h-1zM184 352h1v3h-1zM184 358h1v3h-1zM188 352h1v3h-1zM188 358h1v3h-1zM192 362h1v2h-1zM204 360h1v3h-1zM208 357h1v3h-1zM208 363h1v1h-1zM212 357h1v3h-1zM212 363h1v1h-1zM216 355h1v3h-1zM216 361h1v3h-1zM220 357h1v3h-1zM224 353h1v3h-1zM224 359h1v1h-1zM228 352h1v3h-1zM228 358h1v2h-1zM232 349h1v3h-1zM232 355h1v3h-1zM252 333h1v2h-1zM256 327h1v3h-1zM256 333h1v1h-1zM260 303h1v3h-1zM260 309h1v3h-1zM260 315h1v3h-1zM260 321h1v3h-1zM260 327h1v3h-1zM260 333h1v1h-1zM264 303h1v3h-1zM264 309h1v3h-1zM264 315h1v3h-1zM264 321h1v3h-1zM264 327h1v3h-1zM264 333h1v1h-1zM268 299h1v3h-1zM268 305h1v3h-1zM268 311h1v3h-1zM268 317h1v3h-1zM268 323h1v3h-1zM268 329h1v3h-1zM272 299h1v3h-1zM272 305h1v3h-1zM272 311h1v3h-1zM272 317h1v3h-1zM272 323h1v3h-1zM272 329h1v3h-1zM276 299h1v3h-1zM276 305h1v3h-1zM276 311h1v3h-1zM276 317h1v3h-1zM276 323h1v3h-1zM276 329h1v3h-1zM280 299h1v3h-1zM280 305h1v3h-1zM280 311h1v3h-1zM280 317h1v3h-1zM280 323h1v3h-1zM280 329h1v3h-1zM284 298h1v3h-1zM284 304h1v3h-1zM284 310h1v3h-1zM284 316h1v3h-1zM284 322h1v3h-1zM284 328h1v3h-1zM288 303h1v3h-1zM288 309h1v3h-1zM288 315h1v3h-1zM288 321h1v3h-1zM288 327h1v3h-1zM288 333h1v1h-1zM292 297h1v3h-1zM292 303h1v3h-1zM292 309h1v3h-1zM292 315h1v3h-1zM292 321h1v3h-1zM292 327h1v3h-1zM292 333h1v1h-1zM296 302h1v3h-1zM296 308h1v3h-1zM296 314h1v3h-1zM296 320h1v3h-1zM296 326h1v3h-1zM296 332h1v2h-1zM300 308h1v3h-1zM300 314h1v3h-1zM300 320h1v3h-1zM300 326h1v3h-1zM300 332h1v2h-1zM304 306h1v3h-1zM304 312h1v3h-1zM304 318h1v3h-1zM304 324h1v3h-1zM304 330h1v3h-1zM308 304h1v3h-1zM308 310h1v3h-1zM308 316h1v3h-1zM308 322h1v3h-1zM308 328h1v3h-1zM312 304h1v3h-1zM312 310h1v3h-1zM312 316h1v3h-1zM312 322h1v3h-1zM312 328h1v3h-1zM316 311h1v3h-1zM316 317h1v3h-1zM316 323h1v3h-1zM316 329h1v3h-1zM320 322h1v3h-1zM320 328h1v3h-1zM324 328h1v3h-1zM328 328h1v3h-1zM332 328h1v3h-1zM440 346h1v2h-1zM444 339h1v3h-1zM444 345h1v3h-1zM448 326h1v3h-1zM448 332h1v3h-1zM448 338h1v3h-1zM448 344h1v3h-1zM452 319h1v3h-1zM452 325h1v3h-1zM452 331h1v3h-1zM452 337h1v3h-1zM452 343h1v3h-1zM456 319h1v3h-1zM456 325h1v3h-1zM456 331h1v3h-1zM456 337h1v3h-1zM456 343h1v3h-1zM460 316h1v3h-1zM460 322h1v3h-1zM460 328h1v3h-1zM460 334h1v3h-1zM460 340h1v3h-1zM460 346h1v2h-1zM464 312h1v3h-1zM464 318h1v3h-1zM464 324h1v3h-1zM464 330h1v3h-1zM464 336h1v3h-1zM464 342h1v3h-1zM468 311h1v3h-1zM468 317h1v3h-1zM468 323h1v3h-1zM468 329h1v3h-1zM468 335h1v3h-1zM468 341h1v3h-1zM468 347h1v3h-1zM472 298h1v3h-1zM472 304h1v3h-1zM472 310h1v3h-1zM472 316h1v3h-1zM472 322h1v3h-1zM472 328h1v3h-1zM472 334h1v3h-1zM472 340h1v1h-1zM476 281h1v3h-1zM476 287h1v3h-1zM476 293h1v3h-1zM476 299h1v3h-1zM476 305h1v3h-1zM476 311h1v3h-1zM476 317h1v3h-1zM476 323h1v3h-1zM476 329h1v3h-1zM476 335h1v3h-1zM480 272h1v3h-1zM480 278h1v3h-1zM480 284h1v3h-1zM480 290h1v3h-1zM480 296h1v3h-1zM480 302h1v3h-1zM480 308h1v3h-1zM480 314h1v3h-1zM480 320h1v3h-1zM480 326h1v3h-1zM480 332h1v3h-1zM480 338h1v3h-1zM484 270h1v3h-1zM484 276h1v3h-1zM484 282h1v3h-1zM484 288h1v3h-1zM484 294h1v3h-1zM484 300h1v3h-1zM484 306h1v3h-1zM484 312h1v3h-1zM484 318h1v3h-1zM484 324h1v3h-1zM484 330h1v3h-1zM484 336h1v3h-1zM488 268h1v3h-1zM488 274h1v3h-1zM488 280h1v3h-1zM488 286h1v3h-1zM488 292h1v3h-1zM488 298h1v3h-1zM488 304h1v3h-1zM488 310h1v3h-1zM488 316h1v3h-1zM488 322h1v3h-1zM488 328h1v3h-1zM488 334h1v3h-1zM488 340h1v1h-1zM492 264h1v3h-1zM492 270h1v3h-1zM492 276h1v3h-1zM492 282h1v3h-1zM492 288h1v3h-1zM492 294h1v3h-1zM492 300h1v3h-1zM492 306h1v3h-1zM492 312h1v3h-1zM492 318h1v3h-1zM492 324h1v3h-1zM492 330h1v3h-1zM492 336h1v3h-1zM496 246h1v3h-1zM496 252h1v3h-1zM496 258h1v3h-1zM496 264h1v3h-1zM496 270h1v3h-1zM496 276h1v3h-1zM496 282h1v3h-1zM496 288h1v3h-1zM496 294h1v3h-1zM496 300h1v3h-1zM496 306h1v3h-1zM496 312h1v3h-1zM496 318h1v3h-1zM500 220h1v3h-1zM500 226h1v3h-1zM500 232h1v3h-1zM500 238h1v3h-1zM500 244h1v3h-1zM500 250h1v3h-1zM500 256h1v3h-1zM500 262h1v3h-1zM500 268h1v3h-1zM500 274h1v3h-1zM500 280h1v3h-1zM500 286h1v3h-1zM500 292h1v3h-1zM500 298h1v3h-1zM504 220h1v3h-1zM504 226h1v3h-1zM504 232h1v3h-1zM504 238h1v3h-1zM504 244h1v3h-1zM504 250h1v3h-1zM504 256h1v3h-1zM504 262h1v3h-1zM504 268h1v3h-1zM504 274h1v3h-1zM504 280h1v3h-1zM504 286h1v3h-1zM504 292h1v3h-1zM504 298h1v3h-1zM508 214h1v3h-1zM508 220h1v3h-1zM508 226h1v3h-1zM508 232h1v3h-1zM508 238h1v3h-1zM508 244h1v3h-1zM508 250h1v3h-1zM508 256h1v3h-1zM508 262h1v3h-1zM508 268h1v3h-1zM508 274h1v3h-1zM508 280h1v3h-1zM508 286h1v3h-1zM508 292h1v3h-1zM508 298h1v3h-1zM512 211h1v3h-1zM512 217h1v3h-1zM512 223h1v3h-1zM512 229h1v3h-1zM512 235h1v3h-1zM512 241h1v3h-1zM512 247h1v3h-1zM512 253h1v3h-1zM512 259h1v3h-1zM512 265h1v3h-1zM512 271h1v3h-1zM512 277h1v3h-1zM512 283h1v3h-1zM512 289h1v3h-1zM512 295h1v3h-1zM516 193h1v3h-1zM516 199h1v3h-1zM516 205h1v3h-1zM516 211h1v3h-1zM516 217h1v3h-1zM516 223h1v3h-1zM516 229h1v3h-1zM516 235h1v3h-1zM516 241h1v3h-1zM516 247h1v3h-1zM516 253h1v3h-1zM516 259h1v3h-1zM516 265h1v3h-1zM516 271h1v3h-1zM516 277h1v3h-1zM520 187h1v3h-1zM520 193h1v3h-1zM520 199h1v3h-1zM520 205h1v3h-1zM520 211h1v3h-1zM520 217h1v3h-1zM520 223h1v3h-1zM520 229h1v3h-1zM520 235h1v3h-1zM520 241h1v3h-1zM520 247h1v3h-1zM520 253h1v3h-1zM520 259h1v3h-1zM520 265h1v3h-1zM520 271h1v3h-1zM524 187h1v3h-1zM524 193h1v3h-1zM524 199h1v3h-1zM524 205h1v3h-1zM524 211h1v3h-1zM524 217h1v3h-1zM524 223h1v3h-1zM524 229h1v3h-1zM524 235h1v3h-1zM524 241h1v3h-1zM524 247h1v3h-1zM524 253h1v3h-1zM524 259h1v3h-1zM524 265h1v3h-1zM524 271h1v3h-1zM528 166h1v3h-1zM528 172h1v3h-1zM528 178h1v3h-1zM528 184h1v3h-1zM528 190h1v3h-1zM528 196h1v3h-1zM528 202h1v3h-1zM528 208h1v3h-1zM528 214h1v3h-1zM528 220h1v3h-1zM528 226h1v3h-1zM528 232h1v3h-1zM528 238h1v3h-1zM528 244h1v3h-1zM528 250h1v3h-1zM528 256h1v3h-1zM528 262h1v3h-1zM532 149h1v3h-1zM532 155h1v3h-1zM532 161h1v3h-1zM532 167h1v3h-1zM532 173h1v3h-1zM532 179h1v3h-1zM532 185h1v3h-1zM532 191h1v3h-1zM532 197h1v3h-1zM532 203h1v3h-1zM532 209h1v3h-1zM532 215h1v3h-1zM532 221h1v3h-1zM532 227h1v3h-1zM532 233h1v3h-1zM532 239h1v3h-1zM532 245h1v3h-1zM532 251h1v3h-1zM536 149h1v3h-1zM536 155h1v3h-1zM536 161h1v3h-1zM536 167h1v3h-1zM536 173h1v3h-1zM536 179h1v3h-1zM536 185h1v3h-1zM536 191h1v3h-1zM536 197h1v3h-1zM536 203h1v3h-1zM536 209h1v3h-1zM536 215h1v3h-1zM536 221h1v3h-1zM536 227h1v3h-1zM536 233h1v3h-1zM536 239h1v3h-1zM536 245h1v3h-1zM536 251h1v3h-1zM540 149h1v3h-1zM540 155h1v3h-1zM540 161h1v3h-1zM540 167h1v3h-1zM540 173h1v3h-1zM540 179h1v3h-1zM540 185h1v3h-1zM540 191h1v3h-1zM540 197h1v3h-1zM540 203h1v3h-1zM540 209h1v3h-1zM540 215h1v3h-1zM540 221h1v3h-1zM540 227h1v3h-1zM540 233h1v3h-1zM540 239h1v3h-1zM540 245h1v3h-1zM540 251h1v3h-1zM544 129h1v3h-1zM544 135h1v3h-1zM544 141h1v3h-1zM544 147h1v3h-1zM544 153h1v3h-1zM544 159h1v3h-1zM544 165h1v3h-1zM544 171h1v3h-1zM544 177h1v3h-1zM544 183h1v3h-1zM544 189h1v3h-1zM544 195h1v3h-1zM544 201h1v3h-1zM544 207h1v3h-1zM544 213h1v3h-1zM544 219h1v3h-1zM544 225h1v3h-1zM544 231h1v3h-1zM544 237h1v3h-1zM544 243h1v3h-1zM544 249h1v3h-1zM544 255h1v1h-1zM548 123h1v3h-1zM548 129h1v3h-1zM548 135h1v3h-1zM548 141h1v3h-1zM548 147h1v3h-1zM548 153h1v3h-1zM548 159h1v3h-1zM548 165h1v3h-1zM548 171h1v3h-1zM548 177h1v3h-1zM548 183h1v3h-1zM548 189h1v3h-1zM548 195h1v3h-1zM548 201h1v3h-1zM548 207h1v3h-1zM548 213h1v3h-1zM548 219h1v3h-1zM548 225h1v3h-1zM548 231h1v3h-1zM548 237h1v3h-1zM548 243h1v3h-1zM548 249h1v3h-1zM548 255h1v1h-1zM552 123h1v3h-1zM552 129h1v3h-1zM552 135h1v3h-1zM552 141h1v3h-1zM552 147h1v3h-1zM552 153h1v3h-1zM552 159h1v3h-1zM552 165h1v3h-1zM552 171h1v3h-1zM552 177h1v3h-1zM552 183h1v3h-1zM552 189h1v3h-1zM552 195h1v3h-1zM552 201h1v3h-1zM552 207h1v3h-1zM552 213h1v3h-1zM552 219h1v3h-1zM552 225h1v3h-1zM552 231h1v3h-1zM552 237h1v3h-1zM552 243h1v3h-1zM552 249h1v3h-1zM552 255h1v1h-1zM556 132h1v3h-1zM556 138h1v3h-1zM556 144h1v3h-1zM556 150h1v3h-1zM556 156h1v3h-1zM556 162h1v3h-1zM556 168h1v3h-1zM556 174h1v3h-1zM556 180h1v3h-1zM556 186h1v3h-1zM556 192h1v3h-1zM556 198h1v3h-1zM556 204h1v3h-1zM556 210h1v3h-1zM556 216h1v3h-1zM556 222h1v3h-1zM556 228h1v3h-1zM556 234h1v3h-1zM556 240h1v3h-1zM556 246h1v3h-1zM556 252h1v3h-1zM560 132h1v3h-1zM560 138h1v3h-1zM560 144h1v3h-1zM560 150h1v3h-1zM560 156h1v3h-1zM560 162h1v3h-1zM560 168h1v3h-1zM560 174h1v3h-1zM560 180h1v3h-1zM560 186h1v3h-1zM560 192h1v3h-1zM560 198h1v3h-1zM560 204h1v3h-1zM560 210h1v3h-1zM560 216h1v3h-1zM560 222h1v3h-1zM560 228h1v3h-1zM560 234h1v3h-1zM560 240h1v3h-1zM560 246h1v3h-1zM560 252h1v3h-1zM564 138h1v3h-1zM564 144h1v3h-1zM564 150h1v3h-1zM564 156h1v3h-1zM564 162h1v3h-1zM564 168h1v3h-1zM564 174h1v3h-1zM564 180h1v3h-1zM564 186h1v3h-1zM564 192h1v3h-1zM564 198h1v3h-1zM564 204h1v3h-1zM564 210h1v3h-1zM564 216h1v3h-1zM564 222h1v3h-1zM564 228h1v3h-1zM564 234h1v3h-1zM564 240h1v3h-1zM564 246h1v3h-1zM568 152h1v3h-1zM568 158h1v3h-1zM568 164h1v3h-1zM568 170h1v3h-1zM568 176h1v3h-1zM568 182h1v3h-1zM568 188h1v3h-1zM568 194h1v3h-1zM568 200h1v3h-1zM568 206h1v3h-1zM568 212h1v3h-1zM568 218h1v3h-1zM568 224h1v3h-1zM568 230h1v3h-1zM568 236h1v3h-1zM572 156h1v3h-1zM572 162h1v3h-1zM572 168h1v3h-1zM572 174h1v3h-1zM572 180h1v3h-1zM572 186h1v3h-1zM572 192h1v3h-1zM572 198h1v3h-1zM572 204h1v3h-1zM572 210h1v3h-1zM572 216h1v3h-1zM572 222h1v3h-1zM572 228h1v3h-1zM572 234h1v3h-1zM572 240h1v1h-1zM576 156h1v3h-1zM576 162h1v3h-1zM576 168h1v3h-1zM576 174h1v3h-1zM576 180h1v3h-1zM576 186h1v3h-1zM576 192h1v3h-1zM576 198h1v3h-1zM576 204h1v3h-1zM576 210h1v3h-1zM576 216h1v3h-1zM576 222h1v3h-1zM576 228h1v3h-1zM576 234h1v3h-1zM576 240h1v1h-1zM580 157h1v3h-1zM580 163h1v3h-1zM580 169h1v3h-1zM580 175h1v3h-1zM580 181h1v3h-1zM580 187h1v3h-1zM580 193h1v3h-1zM580 199h1v3h-1zM580 205h1v3h-1zM580 211h1v3h-1zM580 217h1v3h-1zM584 162h1v3h-1zM584 168h1v3h-1zM584 174h1v3h-1zM584 180h1v3h-1zM584 186h1v3h-1zM584 192h1v3h-1zM584 198h1v3h-1zM584 204h1v3h-1zM584 210h1v3h-1zM588 175h1v3h-1zM588 181h1v3h-1zM588 187h1v3h-1zM588 193h1v3h-1zM588 199h1v3h-1zM588 205h1v3h-1zM592 180h1v3h-1zM592 186h1v3h-1zM592 192h1v3h-1zM592 198h1v3h-1zM592 204h1v2h-1zM596 187h1v3h-1zM596 193h1v3h-1zM600 192h1v3h-1zM604 192h1v3h-1zM608 194h1v3h-1z" fill="#2ea865"/>
<path d="M196 363h1v1h-1zM200 363h1v3h-1zM200 369h1v3h-1zM200 375h1v1h-1zM236 335h1v3h-1zM236 341h1v3h-1zM236 347h1v3h-1zM240 334h1v3h-1zM240 340h1v3h-1zM244 335h1v3h-1zM244 341h1v2h-1zM248 335h1v3h-1zM248 341h1v1h-1zM336 333h1v3h-1zM336 339h1v3h-1zM336 345h1v3h-1zM336 351h1v3h-1zM340 333h1v3h-1zM340 339h1v3h-1zM340 345h1v3h-1zM340 351h1v3h-1zM344 333h1v3h-1zM344 339h1v3h-1zM344 345h1v3h-1zM344 351h1v3h-1zM348 333h1v3h-1zM348 339h1v3h-1zM348 345h1v3h-1zM348 351h1v3h-1zM348 357h1v2h-1zM352 343h1v3h-1zM352 349h1v3h-1zM352 355h1v3h-1zM352 361h1v3h-1zM352 367h1v3h-1zM352 373h1v3h-1zM356 347h1v3h-1zM356 353h1v3h-1zM356 359h1v3h-1zM356 365h1v3h-1zM356 371h1v3h-1zM356 377h1v3h-1zM360 347h1v3h-1zM360 353h1v3h-1zM360 359h1v3h-1zM360 365h1v3h-1zM360 371h1v3h-1zM360 377h1v3h-1zM364 347h1v3h-1zM364 353h1v3h-1zM364 359h1v3h-1zM364 365h1v3h-1zM364 371h1v3h-1zM364 377h1v3h-1zM364 383h1v3h-1zM368 347h1v3h-1zM368 353h1v3h-1zM368 359h1v3h-1zM368 365h1v3h-1zM368 371h1v3h-1zM368 377h1v3h-1zM368 383h1v3h-1zM368 389h1v3h-1zM372 347h1v3h-1zM372 353h1v3h-1zM372 359h1v3h-1zM372 365h1v3h-1zM372 371h1v3h-1zM372 377h1v3h-1zM372 383h1v3h-1zM372 389h1v3h-1zM372 395h1v3h-1zM372 401h1v3h-1zM376 347h1v3h-1zM376 353h1v3h-1zM376 359h1v3h-1zM376 365h1v3h-1zM376 371h1v3h-1zM376 377h1v3h-1zM376 383h1v3h-1zM376 389h1v3h-1zM376 395h1v3h-1zM376 401h1v3h-1zM380 347h1v3h-1zM380 353h1v3h-1zM380 359h1v3h-1zM380 365h1v3h-1zM380 371h1v3h-1zM380 377h1v3h-1zM380 383h1v3h-1zM380 389h1v3h-1zM380 395h1v3h-1zM384 347h1v3h-1zM384 353h1v3h-1zM384 359h1v3h-1zM384 365h1v3h-1zM384 371h1v3h-1zM384 377h1v3h-1zM384 383h1v3h-1zM384 389h1v3h-1zM384 395h1v3h-1zM388 347h1v3h-1zM388 353h1v3h-1zM388 359h1v3h-1zM388 365h1v3h-1zM388 371h1v3h-1zM388 377h1v3h-1zM388 383h1v3h-1zM388 389h1v3h-1zM388 395h1v3h-1zM388 401h1v3h-1zM392 347h1v3h-1zM392 353h1v3h-1zM392 359h1v3h-1zM392 365h1v3h-1zM392 371h1v3h-1zM392 377h1v3h-1zM392 383h1v3h-1zM392 389h1v3h-1zM392 395h1v3h-1zM392 401h1v3h-1zM396 347h1v3h-1zM396 353h1v3h-1zM396 359h1v3h-1zM396 365h1v3h-1zM396 371h1v3h-1zM396 377h1v3h-1zM396 383h1v3h-1zM396 389h1v3h-1zM396 395h1v3h-1zM400 347h1v3h-1zM400 353h1v3h-1zM400 359h1v3h-1zM400 365h1v3h-1zM400 371h1v3h-1zM400 377h1v3h-1zM400 383h1v3h-1zM400 389h1v3h-1zM400 395h1v3h-1zM404 347h1v3h-1zM404 353h1v3h-1zM404 359h1v3h-1zM404 365h1v3h-1zM404 371h1v3h-1zM404 377h1v3h-1zM404 383h1v3h-1zM404 389h1v1h-1zM408 347h1v3h-1zM408 353h1v3h-1zM408 359h1v3h-1zM408 365h1v3h-1zM408 371h1v3h-1zM412 347h1v3h-1zM412 353h1v3h-1zM412 359h1v3h-1zM412 365h1v1h-1zM416 347h1v3h-1zM416 353h1v3h-1zM416 359h1v3h-1zM420 347h1v3h-1zM420 353h1v3h-1zM424 347h1v3h-1zM428 347h1v3h-1zM432 347h1v3h-1zM436 347h1v3h-1zM612 185h1v3h-1zM612 191h1v3h-1zM612 197h1v3h-1zM612 203h1v1h-1zM616 185h1v3h-1zM616 191h1v3h-1zM616 197h1v3h-1zM616 203h1v3h-1zM616 209h1v3h-1zM616 215h1v3h-1zM620 185h1v3h-1zM620 191h1v3h-1zM620 197h1v3h-1zM620 203h1v3h-1zM620 209h1v3h-1zM620 215h1v3h-1zM624 185h1v3h-1zM624 191h1v3h-1zM624 197h1v3h-1zM624 203h1v3h-1zM624 209h1v3h-1zM624 215h1v3h-1zM628 185h1v3h-1zM628 191h1v3h-1zM628 197h1v3h-1zM628 203h1v3h-1zM628 209h1v3h-1zM628 215h1v2h-1zM632 185h1v3h-1zM632 191h1v3h-1zM632 197h1v3h-1zM632 203h1v3h-1zM632 209h1v2h-1zM636 185h1v3h-1zM636 191h1v3h-1zM636 197h1v3h-1zM636 203h1v3h-1zM636 209h1v3h-1zM636 215h1v3h-1zM636 221h1v2h-1zM640 185h1v3h-1zM640 191h1v3h-1zM640 197h1v3h-1zM640 203h1v3h-1zM640 209h1v3h-1zM640 215h1v3h-1zM640 221h1v3h-1zM644 185h1v3h-1zM644 191h1v3h-1zM644 197h1v3h-1zM644 203h1v3h-1zM644 209h1v3h-1zM644 215h1v3h-1zM644 221h1v3h-1zM648 171h1v3h-1zM648 177h1v3h-1zM648 183h1v3h-1zM648 189h1v3h-1zM648 195h1v3h-1zM648 201h1v3h-1zM648 207h1v3h-1zM648 213h1v3h-1zM652 170h1v3h-1zM652 176h1v3h-1zM652 182h1v3h-1zM652 188h1v3h-1zM652 194h1v3h-1zM652 200h1v3h-1zM652 206h1v3h-1zM652 212h1v3h-1zM656 170h1v3h-1zM656 176h1v3h-1zM656 182h1v3h-1zM656 188h1v3h-1zM656 194h1v3h-1zM656 200h1v3h-1zM656 206h1v3h-1zM656 212h1v3h-1zM656 218h1v3h-1zM656 224h1v3h-1zM660 170h1v3h-1zM660 176h1v3h-1zM660 182h1v3h-1zM660 188h1v3h-1zM660 194h1v3h-1zM660 200h1v3h-1zM660 206h1v3h-1zM660 212h1v3h-1zM660 218h1v3h-1zM660 224h1v3h-1zM660 230h1v2h-1zM664 170h1v3h-1zM664 176h1v3h-1zM664 182h1v3h-1zM664 188h1v3h-1zM664 194h1v3h-1zM664 200h1v3h-1zM664 206h1v3h-1zM664 212h1v3h-1zM664 218h1v3h-1zM664 224h1v3h-1zM664 230h1v3h-1zM668 170h1v3h-1zM668 176h1v3h-1zM668 182h1v3h-1zM668 188h1v3h-1zM668 194h1v3h-1zM668 200h1v3h-1zM668 206h1v3h-1zM668 212h1v3h-1zM668 218h1v3h-1zM668 224h1v3h-1zM668 230h1v3h-1zM668 236h1v3h-1zM672 170h1v3h-1zM672 176h1v3h-1zM672 182h1v3h-1zM672 188h1v3h-1zM672 194h1v3h-1zM672 200h1v3h-1zM672 206h1v3h-1zM672 212h1v3h-1zM672 218h1v3h-1zM672 224h1v3h-1zM672 230h1v3h-1zM672 236h1v3h-1zM672 242h1v3h-1zM676 170h1v3h-1zM676 176h1v3h-1zM676 182h1v3h-1zM676 188h1v3h-1zM676 194h1v3h-1zM676 200h1v3h-1zM676 206h1v3h-1zM676 212h1v3h-1zM676 218h1v3h-1zM676 224h1v3h-1zM676 230h1v3h-1zM676 236h1v3h-1zM676 242h1v3h-1zM676 248h1v3h-1zM680 170h1v3h-1zM680 176h1v3h-1zM680 182h1v3h-1zM680 188h1v3h-1zM680 194h1v3h-1zM680 200h1v3h-1zM680 206h1v3h-1zM680 212h1v3h-1zM680 218h1v3h-1zM680 224h1v3h-1zM680 230h1v3h-1zM680 236h1v3h-1zM680 242h1v3h-1zM680 248h1v3h-1zM684 170h1v3h-1zM684 176h1v3h-1zM684 182h1v3h-1zM684 188h1v3h-1zM684 194h1v3h-1zM684 200h1v3h-1zM684 206h1v3h-1zM684 212h1v3h-1zM684 218h1v3h-1zM684 224h1v3h-1zM684 230h1v3h-1zM684 236h1v3h-1zM684 242h1v3h-1zM684 248h1v3h-1zM684 254h1v3h-1zM688 170h1v3h-1zM688 176h1v3h-1zM688 182h1v3h-1zM688 188h1v3h-1zM688 194h1v3h-1zM688 200h1v3h-1zM688 206h1v3h-1zM688 212h1v3h-1zM688 218h1v3h-1zM688 224h1v3h-1zM688 230h1v3h-1zM688 236h1v3h-1zM688 242h1v3h-1zM688 248h1v3h-1zM688 254h1v3h-1zM688 260h1v2h-1zM692 170h1v3h-1zM692 176h1v3h-1zM692 182h1v3h-1zM692 188h1v3h-1zM692 194h1v3h-1zM692 200h1v3h-1zM692 206h1v3h-1zM692 212h1v3h-1zM692 218h1v3h-1zM692 224h1v3h-1zM692 230h1v3h-1zM692 236h1v3h-1zM692 242h1v3h-1zM692 248h1v3h-1zM692 254h1v3h-1zM692 260h1v2h-1zM696 170h1v3h-1zM696 176h1v3h-1zM696 182h1v3h-1zM696 188h1v3h-1zM696 194h1v3h-1zM696 200h1v3h-1zM696 206h1v3h-1zM696 212h1v3h-1zM696 218h1v3h-1zM696 224h1v3h-1zM696 230h1v3h-1zM696 236h1v3h-1zM696 242h1v3h-1zM696 248h1v3h-1zM696 254h1v3h-1zM696 260h1v2h-1zM700 170h1v3h-1zM700 176h1v3h-1zM700 182h1v3h-1zM700 188h1v3h-1zM700 194h1v3h-1zM700 200h1v3h-1zM700 206h1v3h-1zM700 212h1v3h-1zM700 218h1v3h-1zM700 224h1v3h-1zM700 230h1v3h-1zM700 236h1v3h-1zM700 242h1v3h-1zM700 248h1v3h-1zM700 254h1v3h-1zM700 260h1v2h-1zM704 170h1v3h-1zM704 176h1v3h-1zM704 182h1v3h-1zM704 188h1v3h-1zM704 194h1v3h-1zM704 200h1v3h-1zM704 206h1v3h-1zM704 212h1v3h-1zM704 218h1v3h-1zM704 224h1v3h-1zM704 230h1v3h-1zM704 236h1v3h-1zM704 242h1v3h-1zM704 248h1v3h-1zM704 254h1v3h-1zM708 170h1v3h-1zM708 176h1v3h-1zM708 182h1v3h-1zM708 188h1v3h-1zM708 194h1v3h-1zM708 200h1v3h-1zM708 206h1v3h-1zM708 212h1v3h-1zM708 218h1v3h-1zM708 224h1v3h-1zM708 230h1v3h-1zM708 236h1v3h-1zM708 242h1v3h-1zM708 248h1v3h-1zM708 254h1v3h-1zM712 170h1v3h-1zM712 176h1v3h-1zM712 182h1v3h-1zM712 188h1v3h-1zM712 194h1v3h-1zM712 200h1v3h-1zM712 206h1v3h-1zM712 212h1v3h-1zM712 218h1v3h-1zM712 224h1v3h-1zM712 230h1v3h-1zM712 236h1v3h-1zM712 242h1v3h-1zM712 248h1v3h-1zM712 254h1v3h-1zM716 170h1v3h-1zM716 176h1v3h-1zM716 182h1v3h-1zM716 188h1v3h-1zM716 194h1v3h-1zM716 200h1v3h-1zM716 206h1v3h-1zM716 212h1v3h-1zM716 218h1v3h-1zM716 224h1v3h-1zM716 230h1v3h-1zM716 236h1v3h-1zM716 242h1v3h-1zM716 248h1v3h-1zM716 254h1v2h-1zM720 170h1v3h-1zM720 176h1v3h-1zM720 182h1v3h-1zM720 188h1v3h-1zM720 194h1v3h-1zM720 200h1v3h-1zM720 206h1v3h-1zM720 212h1v3h-1zM720 218h1v3h-1zM720 224h1v3h-1zM720 230h1v3h-1zM720 236h1v3h-1zM720 242h1v3h-1zM720 248h1v3h-1zM720 254h1v2h-1zM724 170h1v3h-1zM724 176h1v3h-1zM724 182h1v3h-1zM724 188h1v3h-1zM724 194h1v3h-1zM724 200h1v3h-1zM724 206h1v3h-1zM724 212h1v3h-1zM724 218h1v3h-1zM724 224h1v3h-1zM724 230h1v3h-1zM724 236h1v3h-1zM724 242h1v3h-1zM724 248h1v3h-1zM724 254h1v1h-1zM728 170h1v3h-1zM728 176h1v3h-1zM728 182h1v3h-1zM728 188h1v3h-1zM728 194h1v3h-1zM728 200h1v3h-1zM728 206h1v3h-1zM728 212h1v3h-1zM728 218h1v3h-1zM728 224h1v3h-1zM728 230h1v3h-1zM728 236h1v3h-1zM728 242h1v3h-1zM728 248h1v3h-1zM732 170h1v3h-1zM732 176h1v3h-1zM732 182h1v3h-1zM732 188h1v3h-1zM732 194h1v3h-1zM732 200h1v3h-1zM732 206h1v3h-1zM732 212h1v3h-1zM732 218h1v3h-1zM732 224h1v3h-1zM732 230h1v3h-1zM732 236h1v3h-1zM732 242h1v3h-1zM736 170h1v3h-1zM736 176h1v3h-1zM736 182h1v3h-1zM736 188h1v3h-1zM736 194h1v3h-1zM736 200h1v3h-1zM736 206h1v3h-1zM736 212h1v3h-1zM736 218h1v3h-1zM736 224h1v3h-1zM736 230h1v3h-1zM736 236h1v3h-1zM736 242h1v3h-1zM740 197h1v3h-1zM740 203h1v3h-1zM740 209h1v3h-1zM740 215h1v3h-1zM740 221h1v3h-1zM740 227h1v3h-1zM740 233h1v3h-1zM740 239h1v3h-1zM740 245h1v3h-1zM740 251h1v2h-1zM744 205h1v3h-1zM744 211h1v3h-1zM744 217h1v3h-1zM744 223h1v3h-1zM744 229h1v3h-1zM744 235h1v3h-1zM744 241h1v3h-1zM744 247h1v3h-1z" fill="#ff4500"/>
<polyline points="0.5,394.5 4.5,397.0 8.5,399.0 12.5,404.5 16.5,416.0 20.5,421.0 24.5,422.0 28.5,429.5 32.5,431.0 36.5,433.5 40.5,432.3 44.5,423.5 48.5,419.0 52.5,418.0 56.5,417.0 60.5,406.0 64.5,395.0 68.5,390.0 72.5,389.0 76.5,388.5 80.5,380.0 84.5,381.0 88.5,381.0 92.5,379.0 96.5,368.0 100.5,366.7" fill="none" stroke="#ff0000" stroke-width="1" stroke-dasharray="18,6" stroke-dashoffset="20.30"/><polyline points="100.5,366.7 104.5,359.5 108.5,342.5 112.5,335.8 116.5,326.3 120.5,324.0 124.5,321.6 128.5,321.1 132.5,304.5 136.5,296.5 140.5,288.7 144.5,288.9 148.5,280.1 152.5,282.5 156.5,288.5 160.5,292.4 164.5,306.9 168.5,329.8 172.5,331.1 176.5,343.1 180.5,352.3 184.5,352.3 188.5,352.3 192.5,362.2 196.5,363.0 200.5,375.0" fill="none" stroke="#ff0000" stroke-width="1" stroke-dasharray="18,6" stroke-dashoffset="8.46"/><polyline points="200.5,375.0 204.5,359.5 208.5,356.8 212.5,356.8 216.5,354.8 220.5,357.3 224.5,353.2 228.5,352.4 232.5,348.9 236.5,350.0 240.5,342.4 244.5,341.9 248.5,340.8 252.5,332.8 256.5,326.7 260.5,303.5 264.5,303.5 268.5,299.4 272.5,299.4 276.5,299.4 280.5,299.4 284.5,298.3 288.5,302.7 292.5,297.4 296.5,302.5 300.5,307.7" fill="none" stroke="#ff0000" stroke-width="1" stroke-dasharray="18,6" stroke-dashoffset="12.18"/><polyline points="300.5,307.7 304.5,306.1 308.5,304.3 312.5,304.3 316.5,311.5 320.5,322.0 324.5,328.0 328.5,328.0 332.5,328.0 336.5,355.1 340.5,355.1 344.5,356.5 348.5,357.7 352.5,374.5 356.5,378.6 360.5,379.8 364.5,386.8 368.5,393.0 372.5,405.9 376.5,404.6 380.5,398.2 384.5,398.2 388.5,406.4 392.5,403.9 396.5,397.1 400.5,396.6 404.5,388.8 408.5,376.1 412.5,364.5 416.5,361.9 420.5,356.2" fill="none" stroke="#ff0000" stroke-width="1" stroke-dasharray="18,6" stroke-dashoffset="1.42"/><polyline points="420.5,356.2 424.5,351.8 428.5,351.4 432.5,351.4 436.5,351.4 440.5,345.8 444.5,338.8 448.5,325.5 452.5,318.9 456.5,318.9 460.5,316.4 464.5,311.8 468.5,311.3 472.5,297.7 476.5,280.5 480.5,271.9 484.5,269.6 488.5,268.5 492.5,264.1 496.5,246.5 500.5,220.1 504.5,220.1 508.5,214.4 512.5,210.6 516.5,193.4 520.5,187.0 524.5,187.0 528.5,165.6 532.5,149.4 536.5,149.4 540.5,149.4 544.5,128.5 548.5,123.1 552.5,123.1 556.5,132.1 560.5,132.1" fill="none" stroke="#ff0000" stroke-width="1" stroke-dasharray="18,6" stroke-dashoffset="11.37"/><polyline points="560.5,132.1 564.5,138.3 568.5,152.3 572.5,156.5 576.5,156.5 580.5,156.6 584.5,161.6 588.5,175.3 592.5,179.6 596.5,187.2 600.5,192.0 604.5,192.0 608.5,194.0 612.5,203.3 616.5,216.6 620.5,218.0 624.5,218.0 628.5,215.9 632.5,210.2 636.5,222.0 640.5,226.2 644.5,226.2 648.5,214.9 652.5,214.3 656.5,228.0 660.5,231.2 664.5,232.6 668.5,238.0 672.5,245.8 676.5,250.5 680.5,250.5 684.5,257.0 688.5,261.4 692.5,261.4 696.5,261.4 700.5,261.4 704.5,259.0 708.5,257.3 712.5,257.3 716.5,254.5 720.5,254.5 724.5,254.0 728.5,253.4 732.5,244.9 736.5,244.9 740.5,251.6 744.5,252.2" fill="none" stroke="#ff0000" stroke-width="1" stroke-dasharray="18,6" stroke-dashoffset="6.95"/>
<polyline points="0.5,505.0 4.5,505.0 8.5,505.0 12.5,503.0 16.5,496.5 20.5,490.0 24.5,484.0 28.5,484.0 32.5,470.0 36.5,458.0 40.5,447.5 44.5,445.3 48.5,438.0 52.5,437.0 56.5,432.3 60.5,432.3 64.5,432.3 68.5,432.3 72.5,432.3 76.5,432.3 80.5,432.3 84.5,432.3 88.5,432.3 92.5,430.0 96.5,424.0 100.5,422.0 104.5,405.0 108.5,379.0 112.5,370.0 116.5,364.5 120.5,363.0 124.5,363.0 128.5,363.0 132.5,363.0 136.5,363.0 140.5,363.0 144.5,363.0 148.5,363.0 152.5,363.0 156.5,363.0 160.5,363.0 164.5,363.0 168.5,363.0 172.5,363.0 176.5,363.0 180.5,363.0 184.5,363.0 188.5,363.0 192.5,363.0 196.5,363.0 200.5,363.0 204.5,363.0 208.5,363.0 212.5,363.0 216.5,363.0 220.5,359.3 224.5,359.3 228.5,359.3 232.5,357.0 236.5,335.0 240.5,334.5 244.5,335.0 248.5,335.0 252.5,334.4 256.5,333.3 260.5,333.3 264.5,333.3 268.5,333.3 272.5,333.3 276.5,333.3 280.5,333.3 284.5,333.3 288.5,333.3 292.5,333.3 296.5,333.3 300.5,333.3 304.5,333.3 308.5,332.7 312.5,332.7 316.5,332.7 320.5,332.7 324.5,332.7 328.5,332.7 332.5,332.7 336.5,332.7 340.5,332.7 344.5,332.7 348.5,332.7 352.5,343.2 356.5,347.3 360.5,347.3 364.5,347.3 368.5,347.3 372.5,347.3 376.5,347.3 380.5,347.3 384.5,347.3 388.5,347.3 392.5,347.3 396.5,347.3 400.5,347.3 404.5,347.3 408.5,347.3 412.5,347.3 416.5,347.3 420.5,347.3 424.5,347.3 428.5,347.3 432.5,347.3 436.5,347.3 440.5,347.3 444.5,347.3 448.5,347.3 452.5,347.3 456.5,347.3 460.5,347.3 464.5,347.3 468.5,349.4 472.5,340.4 476.5,340.4 480.5,340.4 484.5,340.4 488.5,340.4 492.5,340.4 496.5,323.4 500.5,302.3 504.5,302.3 508.5,302.3 512.5,298.4 516.5,281.2 520.5,274.9 524.5,274.9 528.5,266.4 532.5,254.8 536.5,254.8 540.5,254.8 544.5,254.8 548.5,254.8 552.5,254.8 556.5,254.8 560.5,254.8 564.5,249.8 568.5,240.8 572.5,239.7 576.5,239.7 580.5,219.3 584.5,212.1 588.5,207.6 592.5,205.4 596.5,196.7 600.5,195.8 604.5,195.8 608.5,195.8 612.5,184.6 616.5,184.6 620.5,184.6 624.5,184.6 628.5,184.6 632.5,184.6 636.5,184.6 640.5,184.6 644.5,184.6 648.5,170.6 652.5,170.2 656.5,170.2 660.5,170.2 664.5,170.2 668.5,170.2 672.5,170.2 676.5,170.2 680.5,170.2 684.5,170.2 688.5,170.2 692.5,170.2 696.5,170.2 700.5,170.2 704.5,170.2 708.5,170.2 712.5,170.2 716.5,170.2 720.5,170.2 724.5,170.2 728.5,170.2 732.5,170.2 736.5,170.2 740.5,196.7 744.5,205.1" fill="none" stroke="#008000" stroke-width="1" stroke-dasharray="18,6" stroke-dashoffset="20.30"/>
<rect x="0" y="149" width="772" height="1" fill="#ff0000"/>
<rect x="0" y="170" width="772" height="1" fill="#ff0000"/>
<rect x="0" y="234" width="772" height="1" fill="#ff0000"/>
<rect x="0" y="318" width="772" height="1" fill="#ff0000"/>
<rect x="0" y="351" width="772" height="1" fill="#ff0000"/>
<rect x="0" y="375" width="772" height="1" fill="#ff0000"/>
</g>
<polygon points="565,0 574,0 569.5,5" fill="#778899" shape-rendering="geometricPrecision"/>
<polygon points="0,491 0,497 5.2,497" fill="#778899" shape-rendering="geometricPrecision"/>
<rect x="772" y="0" width="1" height="498" fill="#000"/>
<rect x="0" y="497" width="773" height="1" fill="#000"/>
<rect x="773" y="32" width="2" height="1" fill="#000"/>
<rect x="773" y="65" width="2" height="1" fill="#000"/>
<rect x="773" y="98" width="2" height="1" fill="#000"/>
<rect x="773" y="131" width="2" height="1" fill="#000"/>
<rect x="773" y="164" width="2" height="1" fill="#000"/>
<rect x="773" y="197" width="2" height="1" fill="#000"/>
<rect x="773" y="230" width="2" height="1" fill="#000"/>
<rect x="773" y="263" width="2" height="1" fill="#000"/>
<rect x="773" y="296" width="2" height="1" fill="#000"/>
<rect x="773" y="329" width="2" height="1" fill="#000"/>
<rect x="773" y="362" width="2" height="1" fill="#000"/>
<rect x="773" y="395" width="2" height="1" fill="#000"/>
<rect x="773" y="428" width="2" height="1" fill="#000"/>
<rect x="773" y="461" width="2" height="1" fill="#000"/>
<rect x="773" y="494" width="2" height="1" fill="#000"/>
<rect x="0" y="498" width="1" height="3" fill="#000"/>
<rect x="64" y="498" width="1" height="3" fill="#000"/>
<rect x="128" y="498" width="1" height="3" fill="#000"/>
<rect x="192" y="498" width="1" height="3" fill="#000"/>
<rect x="256" y="498" width="1" height="3" fill="#000"/>
<rect x="320" y="498" width="1" height="3" fill="#000"/>
<rect x="384" y="498" width="1" height="3" fill="#000"/>
<rect x="448" y="498" width="1" height="3" fill="#000"/>
<rect x="512" y="498" width="1" height="3" fill="#000"/>
<rect x="576" y="498" width="1" height="3" fill="#000"/>
<rect x="640" y="498" width="1" height="3" fill="#000"/>
<g font-family="DejaVu Sans, sans-serif" font-size="9.7" fill="#000" stroke="#000" stroke-width="0.2"><text x="778.4" y="36" textLength="32.3" lengthAdjust="spacingAndGlyphs">1354.80</text><text x="778.4" y="69" textLength="32.3" lengthAdjust="spacingAndGlyphs">1343.70</text><text x="778.4" y="102" textLength="32.3" lengthAdjust="spacingAndGlyphs">1332.90</text><text x="778.4" y="135" textLength="32.3" lengthAdjust="spacingAndGlyphs">1322.10</text><text x="778.4" y="168" textLength="32.3" lengthAdjust="spacingAndGlyphs">1311.00</text><text x="778.4" y="201" textLength="32.3" lengthAdjust="spacingAndGlyphs">1300.20</text><text x="778.4" y="234" textLength="32.3" lengthAdjust="spacingAndGlyphs">1289.10</text><text x="778.4" y="267" textLength="32.3" lengthAdjust="spacingAndGlyphs">1278.30</text><text x="778.4" y="300" textLength="32.3" lengthAdjust="spacingAndGlyphs">1267.20</text><text x="778.4" y="333" textLength="32.3" lengthAdjust="spacingAndGlyphs">1256.40</text><text x="778.4" y="366" textLength="32.3" lengthAdjust="spacingAndGlyphs">1245.30</text><text x="778.4" y="399" textLength="32.3" lengthAdjust="spacingAndGlyphs">1234.50</text><text x="778.4" y="432" textLength="32.3" lengthAdjust="spacingAndGlyphs">1223.70</text><text x="778.4" y="465" textLength="32.3" lengthAdjust="spacingAndGlyphs">1212.60</text><text x="778.4" y="498" textLength="32.3" lengthAdjust="spacingAndGlyphs">1201.80</text><text x="-1.0" y="510" textLength="51.2" lengthAdjust="spacingAndGlyphs">11 Apr 2017</text><text x="62.8" y="510" textLength="50.4" lengthAdjust="spacingAndGlyphs">4 May 2017</text><text x="127.2" y="510" textLength="54.2" lengthAdjust="spacingAndGlyphs">26 May 2017</text><text x="191.9" y="510" textLength="48.7" lengthAdjust="spacingAndGlyphs">19 Jun 2017</text><text x="255.6" y="510" textLength="46.1" lengthAdjust="spacingAndGlyphs">11 Jul 2017</text><text x="319.2" y="510" textLength="46.8" lengthAdjust="spacingAndGlyphs">2 Aug 2017</text><text x="383.6" y="510" textLength="52.1" lengthAdjust="spacingAndGlyphs">24 Aug 2017</text><text x="447.5" y="510" textLength="51.2" lengthAdjust="spacingAndGlyphs">15 Sep 2017</text><text x="511.6" y="510" textLength="45.8" lengthAdjust="spacingAndGlyphs">9 Oct 2017</text><text x="575.5" y="510" textLength="50.8" lengthAdjust="spacingAndGlyphs">31 Oct 2017</text><text x="639.0" y="510" textLength="53.5" lengthAdjust="spacingAndGlyphs">22 Nov 2017</text></g>
<rect x="774" y="143" width="40" height="11" fill="#ff0000"/>
<rect x="774" y="164" width="40" height="11" fill="#ff0000"/>
<rect x="774" y="228" width="40" height="11" fill="#ff0000"/>
<rect x="774" y="312" width="40" height="11" fill="#ff0000"/>
<rect x="774" y="345" width="40" height="11" fill="#ff0000"/>
<rect x="774" y="369" width="40" height="11" fill="#ff0000"/>
<rect x="774" y="249" width="40" height="11" fill="#000"/>
<g font-family="DejaVu Sans, sans-serif" font-size="9.7" fill="#fff" stroke="#fff" stroke-width="0.15"><text x="778.8" y="152" textLength="32.3" lengthAdjust="spacingAndGlyphs">1316.00</text><text x="778.8" y="173" textLength="32.3" lengthAdjust="spacingAndGlyphs">1309.00</text><text x="778.8" y="237" textLength="32.3" lengthAdjust="spacingAndGlyphs">1288.00</text><text x="778.8" y="321" textLength="32.3" lengthAdjust="spacingAndGlyphs">1260.00</text><text x="778.8" y="354" textLength="32.3" lengthAdjust="spacingAndGlyphs">1249.00</text><text x="778.8" y="378" textLength="32.3" lengthAdjust="spacingAndGlyphs">1241.00</text><text x="778.8" y="258" textLength="32.3" lengthAdjust="spacingAndGlyphs">1280.94</text></g>
<polygon points="3,7 10,7 6.5,10.5" fill="#000" shape-rendering="geometricPrecision"/>
<g font-family="DejaVu Sans, sans-serif" font-size="9.7" fill="#000" stroke="#000" stroke-width="0.2"><text x="14.7" y="11" textLength="63.4" lengthAdjust="spacingAndGlyphs">XAUUSD,Daily</text><text x="85.5" y="11" textLength="32.6" lengthAdjust="spacingAndGlyphs">1280.35</text><text x="121.9" y="11" textLength="32.6" lengthAdjust="spacingAndGlyphs">1282.33</text><text x="157.6" y="11" textLength="32.6" lengthAdjust="spacingAndGlyphs">1280.28</text><text x="193.6" y="11" textLength="32.6" lengthAdjust="spacingAndGlyphs">1280.94</text></g>
</svg>
</body></html>
